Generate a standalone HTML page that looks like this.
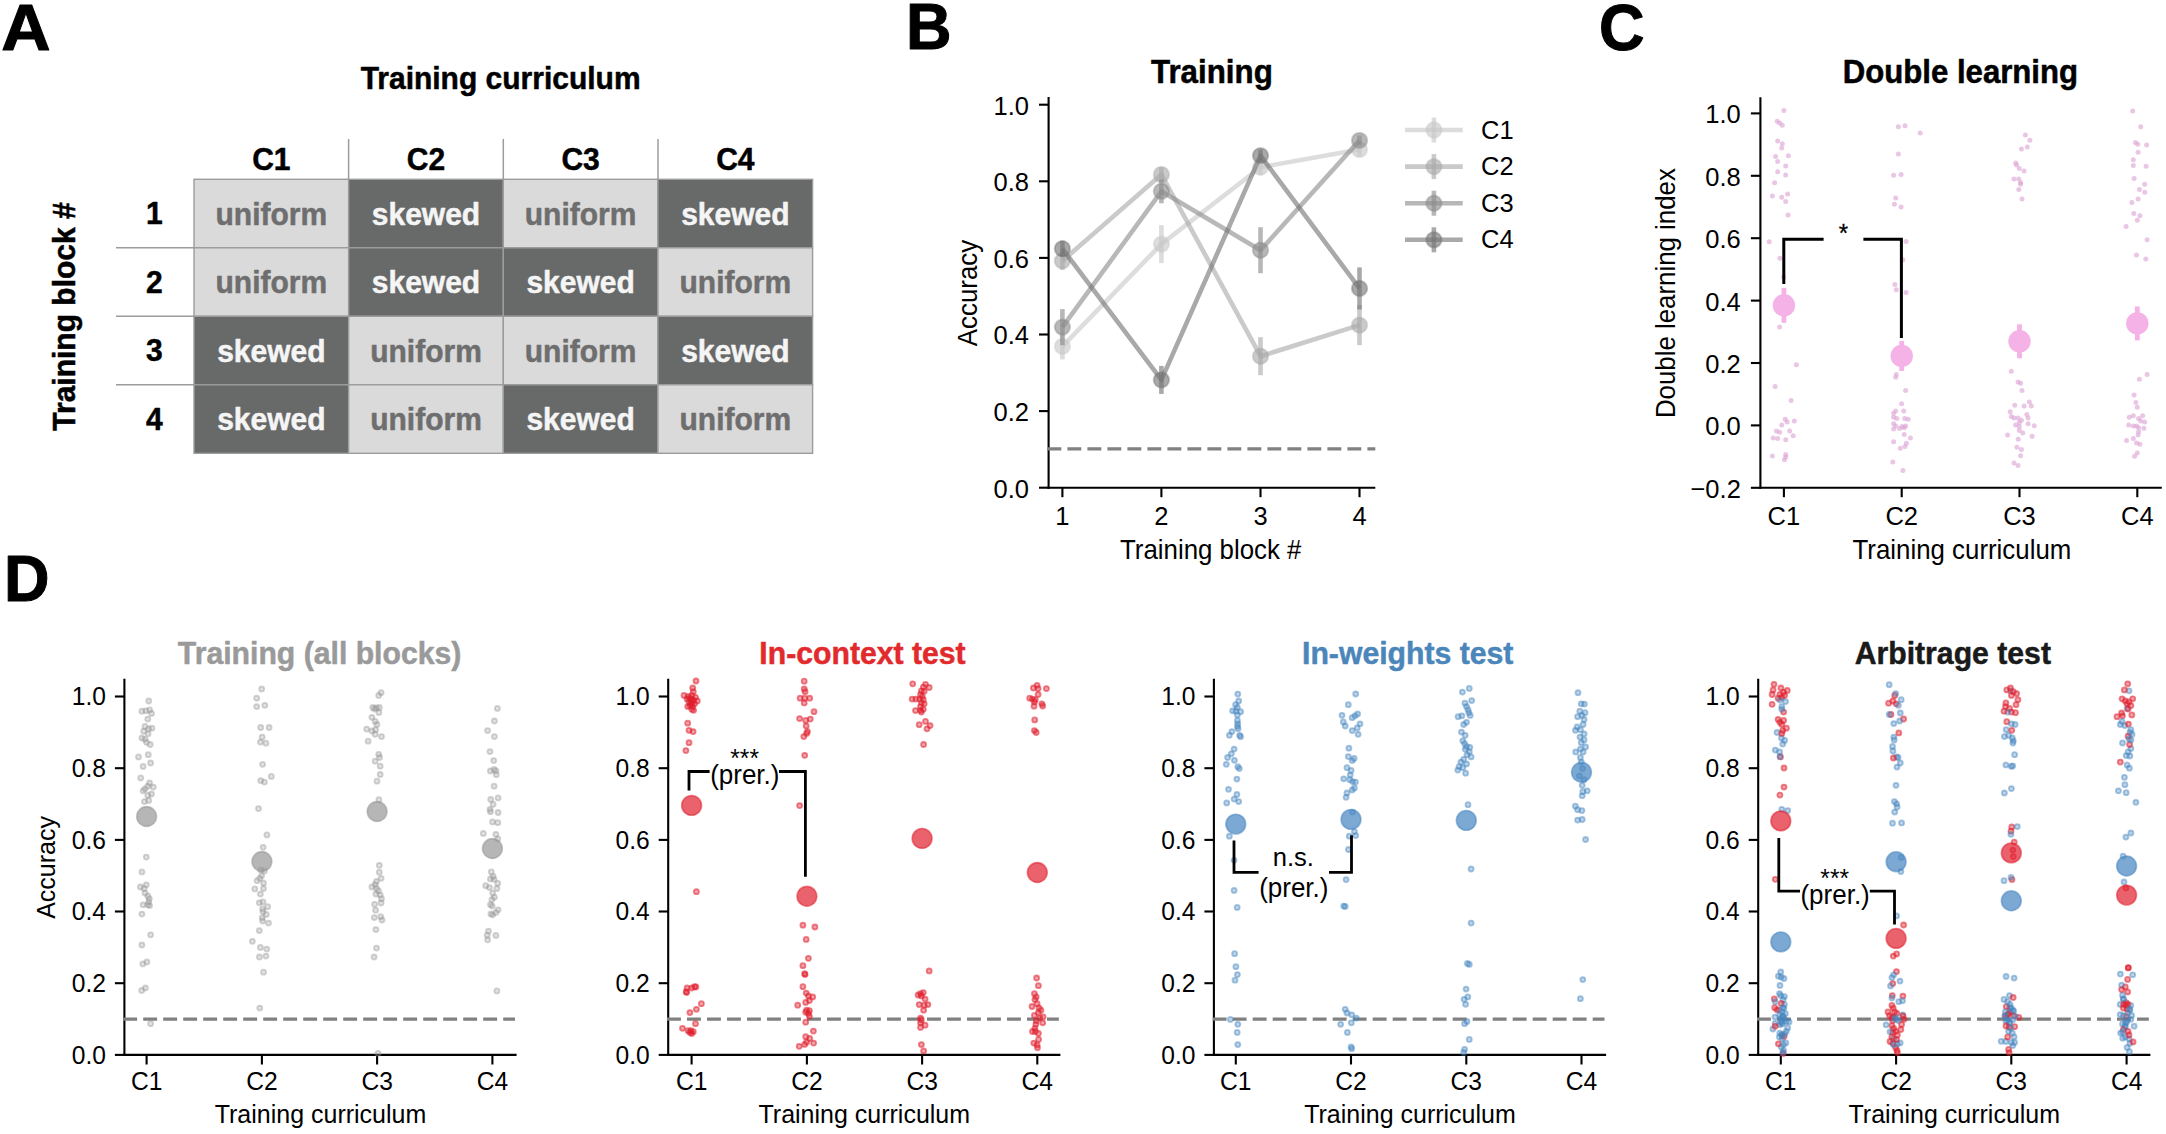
<!DOCTYPE html>
<html><head><meta charset="utf-8"><title>Figure</title>
<style>html,body{margin:0;padding:0;background:#fff;}body{width:2166px;height:1134px;}svg{display:block;font-family:'Liberation Sans', sans-serif;}.sg,.sr,.sb{stroke-width:1.8px}.sg{fill:#979797;stroke:#979797;fill-opacity:.28;stroke-opacity:.42}.sr{fill:#e01f2d;stroke:#e01f2d;fill-opacity:.4;stroke-opacity:.55}.sb{fill:#4585c0;stroke:#4585c0;fill-opacity:.35;stroke-opacity:.47}</style></head>
<body><svg width="2166" height="1134" viewBox="0 0 2166 1134">
<rect width="2166" height="1134" fill="#fff"/>
<text transform="translate(1.2 49.7) scale(1.085 1.04)" font-size="63" text-anchor="start" font-weight="bold" fill="#000" stroke="#000" stroke-width="1.01" stroke-linejoin="round">A</text>
<text transform="translate(906.0 49.4) scale(1 1.04)" font-size="63" text-anchor="start" font-weight="bold" fill="#000" stroke="#000" stroke-width="1.01" stroke-linejoin="round">B</text>
<text transform="translate(1599.0 49.5) scale(1 1.04)" font-size="63" text-anchor="start" font-weight="bold" fill="#000" stroke="#000" stroke-width="1.01" stroke-linejoin="round">C</text>
<text transform="translate(4.0 601.0) scale(1 1.04)" font-size="63" text-anchor="start" font-weight="bold" fill="#000" stroke="#000" stroke-width="1.01" stroke-linejoin="round">D</text>
<text transform="translate(500.6 88.9) scale(1 1.04)" font-size="30.0" text-anchor="middle" font-weight="bold" fill="#000" stroke="#000" stroke-width="0.48" stroke-linejoin="round">Training curriculum</text>
<rect x="194.00" y="179.30" width="154.65" height="68.50" fill="#dadada" stroke="#9c9c9c" stroke-width="1.4"/>
<rect x="348.65" y="179.30" width="154.65" height="68.50" fill="#686969" stroke="#9c9c9c" stroke-width="1.4"/>
<rect x="503.30" y="179.30" width="154.65" height="68.50" fill="#dadada" stroke="#9c9c9c" stroke-width="1.4"/>
<rect x="657.95" y="179.30" width="154.65" height="68.50" fill="#686969" stroke="#9c9c9c" stroke-width="1.4"/>
<rect x="194.00" y="247.80" width="154.65" height="68.50" fill="#dadada" stroke="#9c9c9c" stroke-width="1.4"/>
<rect x="348.65" y="247.80" width="154.65" height="68.50" fill="#686969" stroke="#9c9c9c" stroke-width="1.4"/>
<rect x="503.30" y="247.80" width="154.65" height="68.50" fill="#686969" stroke="#9c9c9c" stroke-width="1.4"/>
<rect x="657.95" y="247.80" width="154.65" height="68.50" fill="#dadada" stroke="#9c9c9c" stroke-width="1.4"/>
<rect x="194.00" y="316.30" width="154.65" height="68.50" fill="#686969" stroke="#9c9c9c" stroke-width="1.4"/>
<rect x="348.65" y="316.30" width="154.65" height="68.50" fill="#dadada" stroke="#9c9c9c" stroke-width="1.4"/>
<rect x="503.30" y="316.30" width="154.65" height="68.50" fill="#dadada" stroke="#9c9c9c" stroke-width="1.4"/>
<rect x="657.95" y="316.30" width="154.65" height="68.50" fill="#686969" stroke="#9c9c9c" stroke-width="1.4"/>
<rect x="194.00" y="384.80" width="154.65" height="68.50" fill="#686969" stroke="#9c9c9c" stroke-width="1.4"/>
<rect x="348.65" y="384.80" width="154.65" height="68.50" fill="#dadada" stroke="#9c9c9c" stroke-width="1.4"/>
<rect x="503.30" y="384.80" width="154.65" height="68.50" fill="#686969" stroke="#9c9c9c" stroke-width="1.4"/>
<rect x="657.95" y="384.80" width="154.65" height="68.50" fill="#dadada" stroke="#9c9c9c" stroke-width="1.4"/>
<text transform="translate(271.3 224.6) scale(1 1.04)" font-size="30.0" text-anchor="middle" font-weight="bold" fill="#6e6e6e" stroke="#6e6e6e" stroke-width="0.48" stroke-linejoin="round">uniform</text>
<text transform="translate(426.0 224.6) scale(1 1.04)" font-size="30.0" text-anchor="middle" font-weight="bold" fill="#f5f5f5" stroke="#f5f5f5" stroke-width="0.48" stroke-linejoin="round">skewed</text>
<text transform="translate(580.6 224.6) scale(1 1.04)" font-size="30.0" text-anchor="middle" font-weight="bold" fill="#6e6e6e" stroke="#6e6e6e" stroke-width="0.48" stroke-linejoin="round">uniform</text>
<text transform="translate(735.3 224.6) scale(1 1.04)" font-size="30.0" text-anchor="middle" font-weight="bold" fill="#f5f5f5" stroke="#f5f5f5" stroke-width="0.48" stroke-linejoin="round">skewed</text>
<text transform="translate(271.3 293.1) scale(1 1.04)" font-size="30.0" text-anchor="middle" font-weight="bold" fill="#6e6e6e" stroke="#6e6e6e" stroke-width="0.48" stroke-linejoin="round">uniform</text>
<text transform="translate(426.0 293.1) scale(1 1.04)" font-size="30.0" text-anchor="middle" font-weight="bold" fill="#f5f5f5" stroke="#f5f5f5" stroke-width="0.48" stroke-linejoin="round">skewed</text>
<text transform="translate(580.6 293.1) scale(1 1.04)" font-size="30.0" text-anchor="middle" font-weight="bold" fill="#f5f5f5" stroke="#f5f5f5" stroke-width="0.48" stroke-linejoin="round">skewed</text>
<text transform="translate(735.3 293.1) scale(1 1.04)" font-size="30.0" text-anchor="middle" font-weight="bold" fill="#6e6e6e" stroke="#6e6e6e" stroke-width="0.48" stroke-linejoin="round">uniform</text>
<text transform="translate(271.3 361.6) scale(1 1.04)" font-size="30.0" text-anchor="middle" font-weight="bold" fill="#f5f5f5" stroke="#f5f5f5" stroke-width="0.48" stroke-linejoin="round">skewed</text>
<text transform="translate(426.0 361.6) scale(1 1.04)" font-size="30.0" text-anchor="middle" font-weight="bold" fill="#6e6e6e" stroke="#6e6e6e" stroke-width="0.48" stroke-linejoin="round">uniform</text>
<text transform="translate(580.6 361.6) scale(1 1.04)" font-size="30.0" text-anchor="middle" font-weight="bold" fill="#6e6e6e" stroke="#6e6e6e" stroke-width="0.48" stroke-linejoin="round">uniform</text>
<text transform="translate(735.3 361.6) scale(1 1.04)" font-size="30.0" text-anchor="middle" font-weight="bold" fill="#f5f5f5" stroke="#f5f5f5" stroke-width="0.48" stroke-linejoin="round">skewed</text>
<text transform="translate(271.3 430.1) scale(1 1.04)" font-size="30.0" text-anchor="middle" font-weight="bold" fill="#f5f5f5" stroke="#f5f5f5" stroke-width="0.48" stroke-linejoin="round">skewed</text>
<text transform="translate(426.0 430.1) scale(1 1.04)" font-size="30.0" text-anchor="middle" font-weight="bold" fill="#6e6e6e" stroke="#6e6e6e" stroke-width="0.48" stroke-linejoin="round">uniform</text>
<text transform="translate(580.6 430.1) scale(1 1.04)" font-size="30.0" text-anchor="middle" font-weight="bold" fill="#f5f5f5" stroke="#f5f5f5" stroke-width="0.48" stroke-linejoin="round">skewed</text>
<text transform="translate(735.3 430.1) scale(1 1.04)" font-size="30.0" text-anchor="middle" font-weight="bold" fill="#6e6e6e" stroke="#6e6e6e" stroke-width="0.48" stroke-linejoin="round">uniform</text>
<text transform="translate(271.3 170.4) scale(1 1.04)" font-size="30.0" text-anchor="middle" font-weight="bold" fill="#000" stroke="#000" stroke-width="0.48" stroke-linejoin="round">C1</text>
<text transform="translate(426.0 170.4) scale(1 1.04)" font-size="30.0" text-anchor="middle" font-weight="bold" fill="#000" stroke="#000" stroke-width="0.48" stroke-linejoin="round">C2</text>
<line x1="348.6" y1="139.0" x2="348.6" y2="179.3" stroke="#9c9c9c" stroke-width="1.5"/>
<text transform="translate(580.6 170.4) scale(1 1.04)" font-size="30.0" text-anchor="middle" font-weight="bold" fill="#000" stroke="#000" stroke-width="0.48" stroke-linejoin="round">C3</text>
<line x1="503.3" y1="139.0" x2="503.3" y2="179.3" stroke="#9c9c9c" stroke-width="1.5"/>
<text transform="translate(735.3 170.4) scale(1 1.04)" font-size="30.0" text-anchor="middle" font-weight="bold" fill="#000" stroke="#000" stroke-width="0.48" stroke-linejoin="round">C4</text>
<line x1="658.0" y1="139.0" x2="658.0" y2="179.3" stroke="#9c9c9c" stroke-width="1.5"/>
<text transform="translate(154.4 224.1) scale(1 1.04)" font-size="30.0" text-anchor="middle" font-weight="bold" fill="#000" stroke="#000" stroke-width="0.48" stroke-linejoin="round">1</text>
<text transform="translate(154.4 292.6) scale(1 1.04)" font-size="30.0" text-anchor="middle" font-weight="bold" fill="#000" stroke="#000" stroke-width="0.48" stroke-linejoin="round">2</text>
<line x1="116.0" y1="247.8" x2="194.0" y2="247.8" stroke="#9c9c9c" stroke-width="1.5"/>
<text transform="translate(154.4 361.1) scale(1 1.04)" font-size="30.0" text-anchor="middle" font-weight="bold" fill="#000" stroke="#000" stroke-width="0.48" stroke-linejoin="round">3</text>
<line x1="116.0" y1="316.3" x2="194.0" y2="316.3" stroke="#9c9c9c" stroke-width="1.5"/>
<text transform="translate(154.4 429.6) scale(1 1.04)" font-size="30.0" text-anchor="middle" font-weight="bold" fill="#000" stroke="#000" stroke-width="0.48" stroke-linejoin="round">4</text>
<line x1="116.0" y1="384.8" x2="194.0" y2="384.8" stroke="#9c9c9c" stroke-width="1.5"/>
<text transform="translate(75.0 316.5) rotate(-90) scale(1 1.04)" font-size="30.0" text-anchor="middle" font-weight="bold" fill="#000" stroke="#000" stroke-width="0.48" stroke-linejoin="round">Training block #</text>
<line x1="1048.6" y1="97.0" x2="1048.6" y2="488.8" stroke="#000" stroke-width="2.1"/>
<line x1="1047.5" y1="487.7" x2="1375.3" y2="487.7" stroke="#000" stroke-width="2.1"/>
<line x1="1039.0" y1="487.7" x2="1048.6" y2="487.7" stroke="#000" stroke-width="2.1"/>
<text transform="translate(1029.0 497.6) scale(1 1.04)" font-size="25.5" text-anchor="end" font-weight="normal" fill="#000">0.0</text>
<line x1="1039.0" y1="411.1" x2="1048.6" y2="411.1" stroke="#000" stroke-width="2.1"/>
<text transform="translate(1029.0 421.0) scale(1 1.04)" font-size="25.5" text-anchor="end" font-weight="normal" fill="#000">0.2</text>
<line x1="1039.0" y1="334.5" x2="1048.6" y2="334.5" stroke="#000" stroke-width="2.1"/>
<text transform="translate(1029.0 344.4) scale(1 1.04)" font-size="25.5" text-anchor="end" font-weight="normal" fill="#000">0.4</text>
<line x1="1039.0" y1="257.9" x2="1048.6" y2="257.9" stroke="#000" stroke-width="2.1"/>
<text transform="translate(1029.0 267.8) scale(1 1.04)" font-size="25.5" text-anchor="end" font-weight="normal" fill="#000">0.6</text>
<line x1="1039.0" y1="181.3" x2="1048.6" y2="181.3" stroke="#000" stroke-width="2.1"/>
<text transform="translate(1029.0 191.2) scale(1 1.04)" font-size="25.5" text-anchor="end" font-weight="normal" fill="#000">0.8</text>
<line x1="1039.0" y1="104.7" x2="1048.6" y2="104.7" stroke="#000" stroke-width="2.1"/>
<text transform="translate(1029.0 114.6) scale(1 1.04)" font-size="25.5" text-anchor="end" font-weight="normal" fill="#000">1.0</text>
<line x1="1062.4" y1="487.7" x2="1062.4" y2="497.2" stroke="#000" stroke-width="2.1"/>
<text transform="translate(1062.4 524.6) scale(1 1.04)" font-size="25.5" text-anchor="middle" font-weight="normal" fill="#000">1</text>
<line x1="1161.4" y1="487.7" x2="1161.4" y2="497.2" stroke="#000" stroke-width="2.1"/>
<text transform="translate(1161.4 524.6) scale(1 1.04)" font-size="25.5" text-anchor="middle" font-weight="normal" fill="#000">2</text>
<line x1="1260.5" y1="487.7" x2="1260.5" y2="497.2" stroke="#000" stroke-width="2.1"/>
<text transform="translate(1260.5 524.6) scale(1 1.04)" font-size="25.5" text-anchor="middle" font-weight="normal" fill="#000">3</text>
<line x1="1359.5" y1="487.7" x2="1359.5" y2="497.2" stroke="#000" stroke-width="2.1"/>
<text transform="translate(1359.5 524.6) scale(1 1.04)" font-size="25.5" text-anchor="middle" font-weight="normal" fill="#000">4</text>
<text transform="translate(1211.9 82.5) scale(1 1.04)" font-size="31.3" text-anchor="middle" font-weight="bold" fill="#000" stroke="#000" stroke-width="0.50" stroke-linejoin="round">Training</text>
<text transform="translate(1210.7 559.0) scale(1 1.04)" font-size="25.85" text-anchor="middle" font-weight="normal" fill="#000">Training block #</text>
<text transform="translate(976.5 293.0) rotate(-90) scale(1 1.04)" font-size="25.85" text-anchor="middle" font-weight="normal" fill="#000">Accuracy</text>
<line x1="1047.4" y1="448.8" x2="1375.3" y2="448.8" stroke="#808080" stroke-width="3.3" stroke-dasharray="13.9 6.1"/>
<g opacity="0.62">
<polyline points="1062.4,346.4 1161.4,244.1 1260.5,167.2 1359.5,149.5" fill="none" stroke="#c8c8c8" stroke-width="4.6" stroke-linejoin="round"/>
</g>
<line x1="1062.4" y1="333.4" x2="1062.4" y2="359.4" stroke="#c8c8c8" stroke-width="4.6" opacity="0.62"/>
<line x1="1161.4" y1="225.1" x2="1161.4" y2="263.1" stroke="#c8c8c8" stroke-width="4.6" opacity="0.62"/>
<line x1="1260.5" y1="159.2" x2="1260.5" y2="175.2" stroke="#c8c8c8" stroke-width="4.6" opacity="0.62"/>
<line x1="1359.5" y1="142.5" x2="1359.5" y2="156.5" stroke="#c8c8c8" stroke-width="4.6" opacity="0.62"/>
<circle cx="1062.4" cy="346.4" r="7.7" fill="#c8c8c8" fill-opacity="0.62" stroke="#c8c8c8" stroke-opacity="0.4" stroke-width="2.0"/>
<circle cx="1161.4" cy="244.1" r="7.7" fill="#c8c8c8" fill-opacity="0.62" stroke="#c8c8c8" stroke-opacity="0.4" stroke-width="2.0"/>
<circle cx="1260.5" cy="167.2" r="7.7" fill="#c8c8c8" fill-opacity="0.62" stroke="#c8c8c8" stroke-opacity="0.4" stroke-width="2.0"/>
<circle cx="1359.5" cy="149.5" r="7.7" fill="#c8c8c8" fill-opacity="0.62" stroke="#c8c8c8" stroke-opacity="0.4" stroke-width="2.0"/>
<line x1="1405.0" y1="130.0" x2="1462.7" y2="130.0" stroke="#c8c8c8" stroke-width="4.6" opacity="0.62"/>
<line x1="1433.9" y1="117.5" x2="1433.9" y2="142.5" stroke="#c8c8c8" stroke-width="4.6" opacity="0.62"/>
<circle cx="1433.9" cy="130.0" r="7.7" fill="#c8c8c8" fill-opacity="0.62" stroke="#c8c8c8" stroke-opacity="0.4" stroke-width="2.0"/>
<text transform="translate(1481.0 138.6) scale(1 1.04)" font-size="25.5" text-anchor="start" font-weight="normal" fill="#000">C1</text>
<g opacity="0.62">
<polyline points="1062.4,260.9 1161.4,174.5 1260.5,356.2 1359.5,325.1" fill="none" stroke="#aaaaaa" stroke-width="4.6" stroke-linejoin="round"/>
</g>
<line x1="1062.4" y1="251.9" x2="1062.4" y2="269.9" stroke="#aaaaaa" stroke-width="4.6" opacity="0.62"/>
<line x1="1161.4" y1="167.5" x2="1161.4" y2="181.5" stroke="#aaaaaa" stroke-width="4.6" opacity="0.62"/>
<line x1="1260.5" y1="337.2" x2="1260.5" y2="375.2" stroke="#aaaaaa" stroke-width="4.6" opacity="0.62"/>
<line x1="1359.5" y1="305.1" x2="1359.5" y2="345.1" stroke="#aaaaaa" stroke-width="4.6" opacity="0.62"/>
<circle cx="1062.4" cy="260.9" r="7.7" fill="#aaaaaa" fill-opacity="0.62" stroke="#aaaaaa" stroke-opacity="0.4" stroke-width="2.0"/>
<circle cx="1161.4" cy="174.5" r="7.7" fill="#aaaaaa" fill-opacity="0.62" stroke="#aaaaaa" stroke-opacity="0.4" stroke-width="2.0"/>
<circle cx="1260.5" cy="356.2" r="7.7" fill="#aaaaaa" fill-opacity="0.62" stroke="#aaaaaa" stroke-opacity="0.4" stroke-width="2.0"/>
<circle cx="1359.5" cy="325.1" r="7.7" fill="#aaaaaa" fill-opacity="0.62" stroke="#aaaaaa" stroke-opacity="0.4" stroke-width="2.0"/>
<line x1="1405.0" y1="166.6" x2="1462.7" y2="166.6" stroke="#aaaaaa" stroke-width="4.6" opacity="0.62"/>
<line x1="1433.9" y1="154.1" x2="1433.9" y2="179.1" stroke="#aaaaaa" stroke-width="4.6" opacity="0.62"/>
<circle cx="1433.9" cy="166.6" r="7.7" fill="#aaaaaa" fill-opacity="0.62" stroke="#aaaaaa" stroke-opacity="0.4" stroke-width="2.0"/>
<text transform="translate(1481.0 175.2) scale(1 1.04)" font-size="25.5" text-anchor="start" font-weight="normal" fill="#000">C2</text>
<g opacity="0.62">
<polyline points="1062.4,327.1 1161.4,191.3 1260.5,250.2 1359.5,140.4" fill="none" stroke="#8c8c8c" stroke-width="4.6" stroke-linejoin="round"/>
</g>
<line x1="1062.4" y1="309.1" x2="1062.4" y2="345.1" stroke="#8c8c8c" stroke-width="4.6" opacity="0.62"/>
<line x1="1161.4" y1="179.3" x2="1161.4" y2="203.3" stroke="#8c8c8c" stroke-width="4.6" opacity="0.62"/>
<line x1="1260.5" y1="227.2" x2="1260.5" y2="273.2" stroke="#8c8c8c" stroke-width="4.6" opacity="0.62"/>
<line x1="1359.5" y1="135.4" x2="1359.5" y2="145.4" stroke="#8c8c8c" stroke-width="4.6" opacity="0.62"/>
<circle cx="1062.4" cy="327.1" r="7.7" fill="#8c8c8c" fill-opacity="0.62" stroke="#8c8c8c" stroke-opacity="0.4" stroke-width="2.0"/>
<circle cx="1161.4" cy="191.3" r="7.7" fill="#8c8c8c" fill-opacity="0.62" stroke="#8c8c8c" stroke-opacity="0.4" stroke-width="2.0"/>
<circle cx="1260.5" cy="250.2" r="7.7" fill="#8c8c8c" fill-opacity="0.62" stroke="#8c8c8c" stroke-opacity="0.4" stroke-width="2.0"/>
<circle cx="1359.5" cy="140.4" r="7.7" fill="#8c8c8c" fill-opacity="0.62" stroke="#8c8c8c" stroke-opacity="0.4" stroke-width="2.0"/>
<line x1="1405.0" y1="203.2" x2="1462.7" y2="203.2" stroke="#8c8c8c" stroke-width="4.6" opacity="0.62"/>
<line x1="1433.9" y1="190.7" x2="1433.9" y2="215.7" stroke="#8c8c8c" stroke-width="4.6" opacity="0.62"/>
<circle cx="1433.9" cy="203.2" r="7.7" fill="#8c8c8c" fill-opacity="0.62" stroke="#8c8c8c" stroke-opacity="0.4" stroke-width="2.0"/>
<text transform="translate(1481.0 211.8) scale(1 1.04)" font-size="25.5" text-anchor="start" font-weight="normal" fill="#000">C3</text>
<g opacity="0.62">
<polyline points="1062.4,248.7 1161.4,379.9 1260.5,155.6 1359.5,288.4" fill="none" stroke="#757575" stroke-width="4.6" stroke-linejoin="round"/>
</g>
<line x1="1062.4" y1="240.7" x2="1062.4" y2="256.7" stroke="#757575" stroke-width="4.6" opacity="0.62"/>
<line x1="1161.4" y1="365.9" x2="1161.4" y2="393.9" stroke="#757575" stroke-width="4.6" opacity="0.62"/>
<line x1="1260.5" y1="149.6" x2="1260.5" y2="161.6" stroke="#757575" stroke-width="4.6" opacity="0.62"/>
<line x1="1359.5" y1="267.4" x2="1359.5" y2="309.4" stroke="#757575" stroke-width="4.6" opacity="0.62"/>
<circle cx="1062.4" cy="248.7" r="7.7" fill="#757575" fill-opacity="0.62" stroke="#757575" stroke-opacity="0.4" stroke-width="2.0"/>
<circle cx="1161.4" cy="379.9" r="7.7" fill="#757575" fill-opacity="0.62" stroke="#757575" stroke-opacity="0.4" stroke-width="2.0"/>
<circle cx="1260.5" cy="155.6" r="7.7" fill="#757575" fill-opacity="0.62" stroke="#757575" stroke-opacity="0.4" stroke-width="2.0"/>
<circle cx="1359.5" cy="288.4" r="7.7" fill="#757575" fill-opacity="0.62" stroke="#757575" stroke-opacity="0.4" stroke-width="2.0"/>
<line x1="1405.0" y1="239.8" x2="1462.7" y2="239.8" stroke="#757575" stroke-width="4.6" opacity="0.62"/>
<line x1="1433.9" y1="227.3" x2="1433.9" y2="252.3" stroke="#757575" stroke-width="4.6" opacity="0.62"/>
<circle cx="1433.9" cy="239.8" r="7.7" fill="#757575" fill-opacity="0.62" stroke="#757575" stroke-opacity="0.4" stroke-width="2.0"/>
<text transform="translate(1481.0 248.4) scale(1 1.04)" font-size="25.5" text-anchor="start" font-weight="normal" fill="#000">C4</text>
<line x1="1760.4" y1="97.2" x2="1760.4" y2="488.8" stroke="#000" stroke-width="2.1"/>
<line x1="1759.4" y1="487.7" x2="2161.8" y2="487.7" stroke="#000" stroke-width="2.1"/>
<line x1="1750.9" y1="487.8" x2="1760.4" y2="487.8" stroke="#000" stroke-width="2.1"/>
<text transform="translate(1740.8 497.7) scale(1 1.04)" font-size="25.5" text-anchor="end" font-weight="normal" fill="#000">−0.2</text>
<line x1="1750.9" y1="425.4" x2="1760.4" y2="425.4" stroke="#000" stroke-width="2.1"/>
<text transform="translate(1740.8 435.3) scale(1 1.04)" font-size="25.5" text-anchor="end" font-weight="normal" fill="#000">0.0</text>
<line x1="1750.9" y1="363.0" x2="1760.4" y2="363.0" stroke="#000" stroke-width="2.1"/>
<text transform="translate(1740.8 372.9) scale(1 1.04)" font-size="25.5" text-anchor="end" font-weight="normal" fill="#000">0.2</text>
<line x1="1750.9" y1="300.6" x2="1760.4" y2="300.6" stroke="#000" stroke-width="2.1"/>
<text transform="translate(1740.8 310.5) scale(1 1.04)" font-size="25.5" text-anchor="end" font-weight="normal" fill="#000">0.4</text>
<line x1="1750.9" y1="238.2" x2="1760.4" y2="238.2" stroke="#000" stroke-width="2.1"/>
<text transform="translate(1740.8 248.1) scale(1 1.04)" font-size="25.5" text-anchor="end" font-weight="normal" fill="#000">0.6</text>
<line x1="1750.9" y1="175.8" x2="1760.4" y2="175.8" stroke="#000" stroke-width="2.1"/>
<text transform="translate(1740.8 185.7) scale(1 1.04)" font-size="25.5" text-anchor="end" font-weight="normal" fill="#000">0.8</text>
<line x1="1750.9" y1="113.4" x2="1760.4" y2="113.4" stroke="#000" stroke-width="2.1"/>
<text transform="translate(1740.8 123.3) scale(1 1.04)" font-size="25.5" text-anchor="end" font-weight="normal" fill="#000">1.0</text>
<line x1="1783.9" y1="487.7" x2="1783.9" y2="497.2" stroke="#000" stroke-width="2.1"/>
<text transform="translate(1783.9 524.6) scale(1 1.04)" font-size="25.5" text-anchor="middle" font-weight="normal" fill="#000">C1</text>
<line x1="1901.7" y1="487.7" x2="1901.7" y2="497.2" stroke="#000" stroke-width="2.1"/>
<text transform="translate(1901.7 524.6) scale(1 1.04)" font-size="25.5" text-anchor="middle" font-weight="normal" fill="#000">C2</text>
<line x1="2019.5" y1="487.7" x2="2019.5" y2="497.2" stroke="#000" stroke-width="2.1"/>
<text transform="translate(2019.5 524.6) scale(1 1.04)" font-size="25.5" text-anchor="middle" font-weight="normal" fill="#000">C3</text>
<line x1="2137.3" y1="487.7" x2="2137.3" y2="497.2" stroke="#000" stroke-width="2.1"/>
<text transform="translate(2137.3 524.6) scale(1 1.04)" font-size="25.5" text-anchor="middle" font-weight="normal" fill="#000">C4</text>
<text transform="translate(1960.4 82.7) scale(1 1.04)" font-size="31.15" text-anchor="middle" font-weight="bold" fill="#000" stroke="#000" stroke-width="0.50" stroke-linejoin="round">Double learning</text>
<text transform="translate(1961.9 559.0) scale(1 1.04)" font-size="25.85" text-anchor="middle" font-weight="normal" fill="#000">Training curriculum</text>
<text transform="translate(1674.5 293.1) rotate(-90) scale(1 1.04)" font-size="25.85" text-anchor="middle" font-weight="normal" fill="#000">Double learning index</text>
<g fill="#dca0d4" fill-opacity="0.6">
<circle cx="1783.9" cy="110.5" r="2.5"/>
<circle cx="1777.2" cy="121.2" r="2.5"/>
<circle cx="1779.6" cy="123.0" r="2.5"/>
<circle cx="1782.3" cy="125.2" r="2.5"/>
<circle cx="1777.7" cy="141.1" r="2.5"/>
<circle cx="1782.3" cy="143.8" r="2.5"/>
<circle cx="1781.7" cy="148.1" r="2.5"/>
<circle cx="1775.6" cy="156.6" r="2.5"/>
<circle cx="1788.4" cy="155.8" r="2.5"/>
<circle cx="1777.7" cy="161.4" r="2.5"/>
<circle cx="1785.7" cy="165.9" r="2.5"/>
<circle cx="1777.7" cy="171.8" r="2.5"/>
<circle cx="1785.7" cy="175.0" r="2.5"/>
<circle cx="1774.6" cy="182.7" r="2.5"/>
<circle cx="1787.6" cy="193.9" r="2.5"/>
<circle cx="1772.4" cy="196.0" r="2.5"/>
<circle cx="1781.7" cy="197.3" r="2.5"/>
<circle cx="1785.7" cy="201.6" r="2.5"/>
<circle cx="1788.1" cy="214.9" r="2.5"/>
<circle cx="1769.2" cy="241.8" r="2.5"/>
<circle cx="1779.9" cy="258.3" r="2.5"/>
<circle cx="1783.6" cy="277.0" r="2.5"/>
<circle cx="1898.4" cy="126.8" r="2.5"/>
<circle cx="1905.0" cy="125.7" r="2.5"/>
<circle cx="1920.2" cy="132.9" r="2.5"/>
<circle cx="1898.4" cy="153.9" r="2.5"/>
<circle cx="1893.6" cy="175.2" r="2.5"/>
<circle cx="1901.1" cy="174.4" r="2.5"/>
<circle cx="1895.7" cy="197.9" r="2.5"/>
<circle cx="1894.4" cy="204.3" r="2.5"/>
<circle cx="1901.1" cy="206.9" r="2.5"/>
<circle cx="1906.1" cy="241.5" r="2.5"/>
<circle cx="1902.9" cy="259.7" r="2.5"/>
<circle cx="1894.9" cy="284.4" r="2.5"/>
<circle cx="1896.3" cy="289.7" r="2.5"/>
<circle cx="1906.1" cy="292.4" r="2.5"/>
<circle cx="2025.4" cy="135.0" r="2.5"/>
<circle cx="2029.9" cy="140.3" r="2.5"/>
<circle cx="2027.3" cy="147.0" r="2.5"/>
<circle cx="2021.4" cy="149.1" r="2.5"/>
<circle cx="2015.6" cy="163.0" r="2.5"/>
<circle cx="2016.6" cy="165.1" r="2.5"/>
<circle cx="2019.3" cy="168.6" r="2.5"/>
<circle cx="2024.1" cy="171.0" r="2.5"/>
<circle cx="2014.0" cy="179.0" r="2.5"/>
<circle cx="2018.8" cy="179.0" r="2.5"/>
<circle cx="2020.6" cy="182.4" r="2.5"/>
<circle cx="2020.6" cy="184.3" r="2.5"/>
<circle cx="2018.8" cy="189.6" r="2.5"/>
<circle cx="2022.0" cy="198.9" r="2.5"/>
<circle cx="2132.7" cy="111.1" r="2.5"/>
<circle cx="2140.7" cy="126.8" r="2.5"/>
<circle cx="2135.4" cy="142.5" r="2.5"/>
<circle cx="2137.8" cy="144.3" r="2.5"/>
<circle cx="2146.6" cy="145.1" r="2.5"/>
<circle cx="2138.1" cy="152.3" r="2.5"/>
<circle cx="2133.3" cy="159.8" r="2.5"/>
<circle cx="2133.3" cy="165.6" r="2.5"/>
<circle cx="2146.1" cy="166.2" r="2.5"/>
<circle cx="2134.1" cy="178.4" r="2.5"/>
<circle cx="2144.7" cy="184.3" r="2.5"/>
<circle cx="2139.4" cy="189.6" r="2.5"/>
<circle cx="2144.7" cy="192.3" r="2.5"/>
<circle cx="2138.1" cy="198.9" r="2.5"/>
<circle cx="2131.9" cy="202.4" r="2.5"/>
<circle cx="2133.8" cy="213.6" r="2.5"/>
<circle cx="2139.9" cy="215.7" r="2.5"/>
<circle cx="2137.3" cy="220.2" r="2.5"/>
<circle cx="2126.1" cy="226.4" r="2.5"/>
<circle cx="2147.1" cy="239.7" r="2.5"/>
<circle cx="2136.5" cy="255.1" r="2.5"/>
<circle cx="2145.8" cy="259.1" r="2.5"/>
<circle cx="1779.6" cy="327.1" r="2.5"/>
<circle cx="1796.4" cy="364.7" r="2.5"/>
<circle cx="1775.1" cy="386.5" r="2.5"/>
<circle cx="1791.1" cy="400.6" r="2.5"/>
<circle cx="1785.2" cy="419.3" r="2.5"/>
<circle cx="1787.1" cy="421.9" r="2.5"/>
<circle cx="1794.3" cy="421.1" r="2.5"/>
<circle cx="1781.7" cy="425.1" r="2.5"/>
<circle cx="1776.4" cy="431.0" r="2.5"/>
<circle cx="1789.7" cy="431.0" r="2.5"/>
<circle cx="1779.6" cy="432.3" r="2.5"/>
<circle cx="1793.2" cy="435.8" r="2.5"/>
<circle cx="1773.2" cy="437.9" r="2.5"/>
<circle cx="1777.7" cy="438.5" r="2.5"/>
<circle cx="1785.7" cy="439.8" r="2.5"/>
<circle cx="1785.7" cy="454.4" r="2.5"/>
<circle cx="1772.4" cy="456.0" r="2.5"/>
<circle cx="1785.7" cy="457.1" r="2.5"/>
<circle cx="1784.4" cy="459.8" r="2.5"/>
<circle cx="1896.3" cy="374.5" r="2.5"/>
<circle cx="1895.7" cy="377.2" r="2.5"/>
<circle cx="1905.6" cy="390.5" r="2.5"/>
<circle cx="1901.6" cy="403.8" r="2.5"/>
<circle cx="1895.7" cy="411.0" r="2.5"/>
<circle cx="1903.7" cy="411.0" r="2.5"/>
<circle cx="1893.6" cy="413.2" r="2.5"/>
<circle cx="1893.6" cy="417.2" r="2.5"/>
<circle cx="1896.8" cy="418.5" r="2.5"/>
<circle cx="1904.8" cy="418.5" r="2.5"/>
<circle cx="1908.2" cy="419.3" r="2.5"/>
<circle cx="1893.6" cy="423.8" r="2.5"/>
<circle cx="1895.7" cy="425.9" r="2.5"/>
<circle cx="1902.1" cy="426.5" r="2.5"/>
<circle cx="1905.6" cy="425.9" r="2.5"/>
<circle cx="1893.6" cy="429.1" r="2.5"/>
<circle cx="1899.5" cy="428.6" r="2.5"/>
<circle cx="1904.2" cy="427.8" r="2.5"/>
<circle cx="1904.2" cy="434.5" r="2.5"/>
<circle cx="1910.4" cy="437.9" r="2.5"/>
<circle cx="1893.6" cy="441.7" r="2.5"/>
<circle cx="1906.4" cy="443.2" r="2.5"/>
<circle cx="1905.0" cy="446.4" r="2.5"/>
<circle cx="1900.3" cy="448.3" r="2.5"/>
<circle cx="1892.8" cy="461.9" r="2.5"/>
<circle cx="1902.9" cy="470.4" r="2.5"/>
<circle cx="2011.3" cy="371.3" r="2.5"/>
<circle cx="2018.0" cy="382.0" r="2.5"/>
<circle cx="2020.6" cy="383.3" r="2.5"/>
<circle cx="2022.0" cy="390.5" r="2.5"/>
<circle cx="2029.4" cy="402.0" r="2.5"/>
<circle cx="2014.8" cy="405.2" r="2.5"/>
<circle cx="2024.1" cy="406.0" r="2.5"/>
<circle cx="2031.3" cy="406.0" r="2.5"/>
<circle cx="2010.2" cy="411.8" r="2.5"/>
<circle cx="2026.8" cy="414.5" r="2.5"/>
<circle cx="2011.3" cy="416.6" r="2.5"/>
<circle cx="2014.0" cy="417.9" r="2.5"/>
<circle cx="2018.0" cy="417.9" r="2.5"/>
<circle cx="2028.1" cy="417.9" r="2.5"/>
<circle cx="2021.4" cy="420.3" r="2.5"/>
<circle cx="2019.3" cy="422.5" r="2.5"/>
<circle cx="2028.1" cy="423.8" r="2.5"/>
<circle cx="2015.6" cy="425.1" r="2.5"/>
<circle cx="2019.3" cy="426.5" r="2.5"/>
<circle cx="2034.2" cy="425.7" r="2.5"/>
<circle cx="2019.3" cy="430.5" r="2.5"/>
<circle cx="2022.8" cy="433.1" r="2.5"/>
<circle cx="2007.6" cy="435.0" r="2.5"/>
<circle cx="2032.1" cy="436.3" r="2.5"/>
<circle cx="2018.2" cy="439.3" r="2.5"/>
<circle cx="2016.9" cy="447.2" r="2.5"/>
<circle cx="2021.4" cy="449.6" r="2.5"/>
<circle cx="2020.6" cy="455.8" r="2.5"/>
<circle cx="2014.0" cy="463.0" r="2.5"/>
<circle cx="2018.0" cy="465.6" r="2.5"/>
<circle cx="2147.1" cy="374.5" r="2.5"/>
<circle cx="2139.4" cy="379.3" r="2.5"/>
<circle cx="2134.1" cy="395.0" r="2.5"/>
<circle cx="2135.9" cy="402.5" r="2.5"/>
<circle cx="2137.3" cy="407.3" r="2.5"/>
<circle cx="2133.3" cy="415.8" r="2.5"/>
<circle cx="2129.3" cy="417.2" r="2.5"/>
<circle cx="2142.6" cy="415.8" r="2.5"/>
<circle cx="2138.6" cy="418.5" r="2.5"/>
<circle cx="2140.7" cy="421.1" r="2.5"/>
<circle cx="2144.7" cy="421.9" r="2.5"/>
<circle cx="2128.7" cy="425.1" r="2.5"/>
<circle cx="2133.3" cy="425.9" r="2.5"/>
<circle cx="2136.5" cy="425.9" r="2.5"/>
<circle cx="2138.6" cy="427.8" r="2.5"/>
<circle cx="2143.9" cy="428.3" r="2.5"/>
<circle cx="2138.6" cy="431.8" r="2.5"/>
<circle cx="2138.1" cy="435.0" r="2.5"/>
<circle cx="2126.6" cy="440.6" r="2.5"/>
<circle cx="2133.3" cy="438.5" r="2.5"/>
<circle cx="2136.5" cy="443.0" r="2.5"/>
<circle cx="2139.9" cy="444.3" r="2.5"/>
<circle cx="2137.3" cy="453.1" r="2.5"/>
<circle cx="2134.6" cy="456.3" r="2.5"/>
</g>
<polyline points="1783.8,284.0 1783.8,239.3 1823.6,239.3" fill="none" stroke="#000" stroke-width="3.0"/>
<polyline points="1863.4,239.3 1901.4,239.3 1901.4,338.0" fill="none" stroke="#000" stroke-width="3.0"/>
<text transform="translate(1843.5 242.2) scale(1 1.04)" font-size="24.0" text-anchor="middle" font-weight="normal" fill="#000" stroke="#000" stroke-width="0.3">*</text>
<line x1="1783.9" y1="287.8" x2="1783.9" y2="322.8" stroke="#f4b2e7" stroke-width="4.8"/>
<circle cx="1783.9" cy="305.3" r="11.2" fill="#f4b2e7" stroke="none" stroke-width="0" opacity="1"/>
<line x1="1901.7" y1="340.9" x2="1901.7" y2="370.9" stroke="#f4b2e7" stroke-width="4.8"/>
<circle cx="1901.7" cy="355.9" r="11.2" fill="#f4b2e7" stroke="none" stroke-width="0" opacity="1"/>
<line x1="2019.5" y1="324.3" x2="2019.5" y2="358.3" stroke="#f4b2e7" stroke-width="4.8"/>
<circle cx="2019.5" cy="341.3" r="11.2" fill="#f4b2e7" stroke="none" stroke-width="0" opacity="1"/>
<line x1="2137.3" y1="306.4" x2="2137.3" y2="340.4" stroke="#f4b2e7" stroke-width="4.8"/>
<circle cx="2137.3" cy="323.4" r="11.2" fill="#f4b2e7" stroke="none" stroke-width="0" opacity="1"/>
<line x1="124.4" y1="678.7" x2="124.4" y2="1056.0" stroke="#000" stroke-width="2.1"/>
<line x1="123.4" y1="1054.9" x2="516.6" y2="1054.9" stroke="#000" stroke-width="2.1"/>
<line x1="114.9" y1="1054.9" x2="124.4" y2="1054.9" stroke="#000" stroke-width="2.1"/>
<text transform="translate(106.0 1063.8) scale(1 1.04)" font-size="24.6" text-anchor="end" font-weight="normal" fill="#000">0.0</text>
<line x1="114.9" y1="983.2" x2="124.4" y2="983.2" stroke="#000" stroke-width="2.1"/>
<text transform="translate(106.0 992.1) scale(1 1.04)" font-size="24.6" text-anchor="end" font-weight="normal" fill="#000">0.2</text>
<line x1="114.9" y1="911.5" x2="124.4" y2="911.5" stroke="#000" stroke-width="2.1"/>
<text transform="translate(106.0 920.4) scale(1 1.04)" font-size="24.6" text-anchor="end" font-weight="normal" fill="#000">0.4</text>
<line x1="114.9" y1="839.9" x2="124.4" y2="839.9" stroke="#000" stroke-width="2.1"/>
<text transform="translate(106.0 848.8) scale(1 1.04)" font-size="24.6" text-anchor="end" font-weight="normal" fill="#000">0.6</text>
<line x1="114.9" y1="768.2" x2="124.4" y2="768.2" stroke="#000" stroke-width="2.1"/>
<text transform="translate(106.0 777.1) scale(1 1.04)" font-size="24.6" text-anchor="end" font-weight="normal" fill="#000">0.8</text>
<line x1="114.9" y1="696.5" x2="124.4" y2="696.5" stroke="#000" stroke-width="2.1"/>
<text transform="translate(106.0 705.4) scale(1 1.04)" font-size="24.6" text-anchor="end" font-weight="normal" fill="#000">1.0</text>
<line x1="146.6" y1="1054.9" x2="146.6" y2="1064.5" stroke="#000" stroke-width="2.1"/>
<text transform="translate(146.6 1090.1) scale(1 1.04)" font-size="24.6" text-anchor="middle" font-weight="normal" fill="#000">C1</text>
<line x1="261.9" y1="1054.9" x2="261.9" y2="1064.5" stroke="#000" stroke-width="2.1"/>
<text transform="translate(261.9 1090.1) scale(1 1.04)" font-size="24.6" text-anchor="middle" font-weight="normal" fill="#000">C2</text>
<line x1="377.1" y1="1054.9" x2="377.1" y2="1064.5" stroke="#000" stroke-width="2.1"/>
<text transform="translate(377.1 1090.1) scale(1 1.04)" font-size="24.6" text-anchor="middle" font-weight="normal" fill="#000">C3</text>
<line x1="492.4" y1="1054.9" x2="492.4" y2="1064.5" stroke="#000" stroke-width="2.1"/>
<text transform="translate(492.4 1090.1) scale(1 1.04)" font-size="24.6" text-anchor="middle" font-weight="normal" fill="#000">C4</text>
<text transform="translate(319.6 663.8) scale(1 1.04)" font-size="30.2" text-anchor="middle" font-weight="bold" fill="#9a9a9a" stroke="#9a9a9a" stroke-width="0.48" stroke-linejoin="round">Training (all blocks)</text>
<text transform="translate(320.5 1123.2) scale(1 1.04)" font-size="25.0" text-anchor="middle" font-weight="normal" fill="#000">Training curriculum</text>
<text transform="translate(55.2 867.4) rotate(-90) scale(1 1.04)" font-size="25.0" text-anchor="middle" font-weight="normal" fill="#000">Accuracy</text>
<line x1="123.2" y1="1019.2" x2="515.0" y2="1019.2" stroke="#808080" stroke-width="3.3" stroke-dasharray="13.9 6.1"/>
<line x1="668.2" y1="678.7" x2="668.2" y2="1056.0" stroke="#000" stroke-width="2.1"/>
<line x1="667.2" y1="1054.9" x2="1060.4" y2="1054.9" stroke="#000" stroke-width="2.1"/>
<line x1="658.7" y1="1054.9" x2="668.2" y2="1054.9" stroke="#000" stroke-width="2.1"/>
<text transform="translate(649.8 1063.8) scale(1 1.04)" font-size="24.6" text-anchor="end" font-weight="normal" fill="#000">0.0</text>
<line x1="658.7" y1="983.2" x2="668.2" y2="983.2" stroke="#000" stroke-width="2.1"/>
<text transform="translate(649.8 992.1) scale(1 1.04)" font-size="24.6" text-anchor="end" font-weight="normal" fill="#000">0.2</text>
<line x1="658.7" y1="911.5" x2="668.2" y2="911.5" stroke="#000" stroke-width="2.1"/>
<text transform="translate(649.8 920.4) scale(1 1.04)" font-size="24.6" text-anchor="end" font-weight="normal" fill="#000">0.4</text>
<line x1="658.7" y1="839.9" x2="668.2" y2="839.9" stroke="#000" stroke-width="2.1"/>
<text transform="translate(649.8 848.8) scale(1 1.04)" font-size="24.6" text-anchor="end" font-weight="normal" fill="#000">0.6</text>
<line x1="658.7" y1="768.2" x2="668.2" y2="768.2" stroke="#000" stroke-width="2.1"/>
<text transform="translate(649.8 777.1) scale(1 1.04)" font-size="24.6" text-anchor="end" font-weight="normal" fill="#000">0.8</text>
<line x1="658.7" y1="696.5" x2="668.2" y2="696.5" stroke="#000" stroke-width="2.1"/>
<text transform="translate(649.8 705.4) scale(1 1.04)" font-size="24.6" text-anchor="end" font-weight="normal" fill="#000">1.0</text>
<line x1="691.6" y1="1054.9" x2="691.6" y2="1064.5" stroke="#000" stroke-width="2.1"/>
<text transform="translate(691.6 1090.1) scale(1 1.04)" font-size="24.6" text-anchor="middle" font-weight="normal" fill="#000">C1</text>
<line x1="806.9" y1="1054.9" x2="806.9" y2="1064.5" stroke="#000" stroke-width="2.1"/>
<text transform="translate(806.9 1090.1) scale(1 1.04)" font-size="24.6" text-anchor="middle" font-weight="normal" fill="#000">C2</text>
<line x1="922.1" y1="1054.9" x2="922.1" y2="1064.5" stroke="#000" stroke-width="2.1"/>
<text transform="translate(922.1 1090.1) scale(1 1.04)" font-size="24.6" text-anchor="middle" font-weight="normal" fill="#000">C3</text>
<line x1="1037.3" y1="1054.9" x2="1037.3" y2="1064.5" stroke="#000" stroke-width="2.1"/>
<text transform="translate(1037.3 1090.1) scale(1 1.04)" font-size="24.6" text-anchor="middle" font-weight="normal" fill="#000">C4</text>
<text transform="translate(862.5 663.8) scale(1 1.04)" font-size="30.2" text-anchor="middle" font-weight="bold" fill="#e22a2c" stroke="#e22a2c" stroke-width="0.48" stroke-linejoin="round">In-context test</text>
<text transform="translate(864.3 1123.2) scale(1 1.04)" font-size="25.0" text-anchor="middle" font-weight="normal" fill="#000">Training curriculum</text>
<line x1="667.0" y1="1019.2" x2="1058.8" y2="1019.2" stroke="#808080" stroke-width="3.3" stroke-dasharray="13.9 6.1"/>
<line x1="1213.9" y1="678.7" x2="1213.9" y2="1056.0" stroke="#000" stroke-width="2.1"/>
<line x1="1212.9" y1="1054.9" x2="1606.1" y2="1054.9" stroke="#000" stroke-width="2.1"/>
<line x1="1204.4" y1="1054.9" x2="1213.9" y2="1054.9" stroke="#000" stroke-width="2.1"/>
<text transform="translate(1195.5 1063.8) scale(1 1.04)" font-size="24.6" text-anchor="end" font-weight="normal" fill="#000">0.0</text>
<line x1="1204.4" y1="983.2" x2="1213.9" y2="983.2" stroke="#000" stroke-width="2.1"/>
<text transform="translate(1195.5 992.1) scale(1 1.04)" font-size="24.6" text-anchor="end" font-weight="normal" fill="#000">0.2</text>
<line x1="1204.4" y1="911.5" x2="1213.9" y2="911.5" stroke="#000" stroke-width="2.1"/>
<text transform="translate(1195.5 920.4) scale(1 1.04)" font-size="24.6" text-anchor="end" font-weight="normal" fill="#000">0.4</text>
<line x1="1204.4" y1="839.9" x2="1213.9" y2="839.9" stroke="#000" stroke-width="2.1"/>
<text transform="translate(1195.5 848.8) scale(1 1.04)" font-size="24.6" text-anchor="end" font-weight="normal" fill="#000">0.6</text>
<line x1="1204.4" y1="768.2" x2="1213.9" y2="768.2" stroke="#000" stroke-width="2.1"/>
<text transform="translate(1195.5 777.1) scale(1 1.04)" font-size="24.6" text-anchor="end" font-weight="normal" fill="#000">0.8</text>
<line x1="1204.4" y1="696.5" x2="1213.9" y2="696.5" stroke="#000" stroke-width="2.1"/>
<text transform="translate(1195.5 705.4) scale(1 1.04)" font-size="24.6" text-anchor="end" font-weight="normal" fill="#000">1.0</text>
<line x1="1235.8" y1="1054.9" x2="1235.8" y2="1064.5" stroke="#000" stroke-width="2.1"/>
<text transform="translate(1235.8 1090.1) scale(1 1.04)" font-size="24.6" text-anchor="middle" font-weight="normal" fill="#000">C1</text>
<line x1="1351.0" y1="1054.9" x2="1351.0" y2="1064.5" stroke="#000" stroke-width="2.1"/>
<text transform="translate(1351.0 1090.1) scale(1 1.04)" font-size="24.6" text-anchor="middle" font-weight="normal" fill="#000">C2</text>
<line x1="1466.3" y1="1054.9" x2="1466.3" y2="1064.5" stroke="#000" stroke-width="2.1"/>
<text transform="translate(1466.3 1090.1) scale(1 1.04)" font-size="24.6" text-anchor="middle" font-weight="normal" fill="#000">C3</text>
<line x1="1581.5" y1="1054.9" x2="1581.5" y2="1064.5" stroke="#000" stroke-width="2.1"/>
<text transform="translate(1581.5 1090.1) scale(1 1.04)" font-size="24.6" text-anchor="middle" font-weight="normal" fill="#000">C4</text>
<text transform="translate(1407.7 663.8) scale(1 1.04)" font-size="30.2" text-anchor="middle" font-weight="bold" fill="#4b86bb" stroke="#4b86bb" stroke-width="0.48" stroke-linejoin="round">In-weights test</text>
<text transform="translate(1410.0 1123.2) scale(1 1.04)" font-size="25.0" text-anchor="middle" font-weight="normal" fill="#000">Training curriculum</text>
<line x1="1212.7" y1="1019.2" x2="1604.5" y2="1019.2" stroke="#808080" stroke-width="3.3" stroke-dasharray="13.9 6.1"/>
<line x1="1758.2" y1="678.7" x2="1758.2" y2="1056.0" stroke="#000" stroke-width="2.1"/>
<line x1="1757.2" y1="1054.9" x2="2150.4" y2="1054.9" stroke="#000" stroke-width="2.1"/>
<line x1="1748.7" y1="1054.9" x2="1758.2" y2="1054.9" stroke="#000" stroke-width="2.1"/>
<text transform="translate(1739.8 1063.8) scale(1 1.04)" font-size="24.6" text-anchor="end" font-weight="normal" fill="#000">0.0</text>
<line x1="1748.7" y1="983.2" x2="1758.2" y2="983.2" stroke="#000" stroke-width="2.1"/>
<text transform="translate(1739.8 992.1) scale(1 1.04)" font-size="24.6" text-anchor="end" font-weight="normal" fill="#000">0.2</text>
<line x1="1748.7" y1="911.5" x2="1758.2" y2="911.5" stroke="#000" stroke-width="2.1"/>
<text transform="translate(1739.8 920.4) scale(1 1.04)" font-size="24.6" text-anchor="end" font-weight="normal" fill="#000">0.4</text>
<line x1="1748.7" y1="839.9" x2="1758.2" y2="839.9" stroke="#000" stroke-width="2.1"/>
<text transform="translate(1739.8 848.8) scale(1 1.04)" font-size="24.6" text-anchor="end" font-weight="normal" fill="#000">0.6</text>
<line x1="1748.7" y1="768.2" x2="1758.2" y2="768.2" stroke="#000" stroke-width="2.1"/>
<text transform="translate(1739.8 777.1) scale(1 1.04)" font-size="24.6" text-anchor="end" font-weight="normal" fill="#000">0.8</text>
<line x1="1748.7" y1="696.5" x2="1758.2" y2="696.5" stroke="#000" stroke-width="2.1"/>
<text transform="translate(1739.8 705.4) scale(1 1.04)" font-size="24.6" text-anchor="end" font-weight="normal" fill="#000">1.0</text>
<line x1="1780.8" y1="1054.9" x2="1780.8" y2="1064.5" stroke="#000" stroke-width="2.1"/>
<text transform="translate(1780.8 1090.1) scale(1 1.04)" font-size="24.6" text-anchor="middle" font-weight="normal" fill="#000">C1</text>
<line x1="1896.1" y1="1054.9" x2="1896.1" y2="1064.5" stroke="#000" stroke-width="2.1"/>
<text transform="translate(1896.1 1090.1) scale(1 1.04)" font-size="24.6" text-anchor="middle" font-weight="normal" fill="#000">C2</text>
<line x1="2011.3" y1="1054.9" x2="2011.3" y2="1064.5" stroke="#000" stroke-width="2.1"/>
<text transform="translate(2011.3 1090.1) scale(1 1.04)" font-size="24.6" text-anchor="middle" font-weight="normal" fill="#000">C3</text>
<line x1="2126.6" y1="1054.9" x2="2126.6" y2="1064.5" stroke="#000" stroke-width="2.1"/>
<text transform="translate(2126.6 1090.1) scale(1 1.04)" font-size="24.6" text-anchor="middle" font-weight="normal" fill="#000">C4</text>
<text transform="translate(1952.8 663.8) scale(1 1.04)" font-size="30.2" text-anchor="middle" font-weight="bold" fill="#1a1a1a" stroke="#1a1a1a" stroke-width="0.48" stroke-linejoin="round">Arbitrage test</text>
<text transform="translate(1954.3 1123.2) scale(1 1.04)" font-size="25.0" text-anchor="middle" font-weight="normal" fill="#000">Training curriculum</text>
<line x1="1757.0" y1="1019.2" x2="2148.8" y2="1019.2" stroke="#808080" stroke-width="3.3" stroke-dasharray="13.9 6.1"/>
<g class="sg">
<circle cx="148.7" cy="701.0" r="2.5"/>
<circle cx="141.9" cy="711.2" r="2.5"/>
<circle cx="145.9" cy="710.8" r="2.5"/>
<circle cx="149.6" cy="709.9" r="2.5"/>
<circle cx="151.5" cy="713.4" r="2.5"/>
<circle cx="147.8" cy="719.1" r="2.5"/>
<circle cx="145.0" cy="726.4" r="2.5"/>
<circle cx="148.7" cy="728.8" r="2.5"/>
<circle cx="151.9" cy="728.2" r="2.5"/>
<circle cx="143.7" cy="731.2" r="2.5"/>
<circle cx="148.1" cy="733.8" r="2.5"/>
<circle cx="141.9" cy="738.0" r="2.5"/>
<circle cx="145.0" cy="739.3" r="2.5"/>
<circle cx="146.5" cy="742.3" r="2.5"/>
<circle cx="150.2" cy="744.5" r="2.5"/>
<circle cx="148.3" cy="754.7" r="2.5"/>
<circle cx="138.5" cy="756.9" r="2.5"/>
<circle cx="150.6" cy="763.0" r="2.5"/>
<circle cx="143.1" cy="766.4" r="2.5"/>
<circle cx="140.7" cy="777.9" r="2.5"/>
<circle cx="149.6" cy="783.0" r="2.5"/>
<circle cx="147.8" cy="786.2" r="2.5"/>
<circle cx="153.3" cy="787.1" r="2.5"/>
<circle cx="145.0" cy="789.0" r="2.5"/>
<circle cx="143.1" cy="790.8" r="2.5"/>
<circle cx="151.5" cy="794.0" r="2.5"/>
<circle cx="147.8" cy="795.4" r="2.5"/>
<circle cx="148.7" cy="800.4" r="2.5"/>
<circle cx="144.4" cy="801.6" r="2.5"/>
<circle cx="146.3" cy="857.1" r="2.5"/>
<circle cx="261.7" cy="689.0" r="2.5"/>
<circle cx="256.7" cy="698.2" r="2.5"/>
<circle cx="256.7" cy="706.6" r="2.5"/>
<circle cx="264.8" cy="705.3" r="2.5"/>
<circle cx="260.7" cy="727.5" r="2.5"/>
<circle cx="269.1" cy="727.5" r="2.5"/>
<circle cx="262.2" cy="737.1" r="2.5"/>
<circle cx="260.4" cy="742.1" r="2.5"/>
<circle cx="265.9" cy="743.2" r="2.5"/>
<circle cx="262.6" cy="764.3" r="2.5"/>
<circle cx="271.3" cy="776.4" r="2.5"/>
<circle cx="260.7" cy="780.6" r="2.5"/>
<circle cx="264.4" cy="782.1" r="2.5"/>
<circle cx="258.5" cy="808.6" r="2.5"/>
<circle cx="266.9" cy="834.9" r="2.5"/>
<circle cx="263.1" cy="847.3" r="2.5"/>
<circle cx="381.1" cy="692.7" r="2.5"/>
<circle cx="378.7" cy="695.4" r="2.5"/>
<circle cx="372.8" cy="707.5" r="2.5"/>
<circle cx="376.5" cy="707.9" r="2.5"/>
<circle cx="379.3" cy="707.5" r="2.5"/>
<circle cx="374.6" cy="709.0" r="2.5"/>
<circle cx="378.9" cy="712.5" r="2.5"/>
<circle cx="371.9" cy="717.3" r="2.5"/>
<circle cx="375.2" cy="721.4" r="2.5"/>
<circle cx="376.9" cy="724.5" r="2.5"/>
<circle cx="366.7" cy="729.1" r="2.5"/>
<circle cx="371.9" cy="731.0" r="2.5"/>
<circle cx="375.6" cy="729.7" r="2.5"/>
<circle cx="375.2" cy="734.3" r="2.5"/>
<circle cx="381.5" cy="736.6" r="2.5"/>
<circle cx="368.1" cy="741.2" r="2.5"/>
<circle cx="378.7" cy="754.3" r="2.5"/>
<circle cx="379.6" cy="757.5" r="2.5"/>
<circle cx="375.2" cy="761.2" r="2.5"/>
<circle cx="380.2" cy="766.2" r="2.5"/>
<circle cx="380.2" cy="774.5" r="2.5"/>
<circle cx="377.0" cy="781.2" r="2.5"/>
<circle cx="378.9" cy="799.7" r="2.5"/>
<circle cx="379.3" cy="865.3" r="2.5"/>
<circle cx="497.4" cy="708.4" r="2.5"/>
<circle cx="494.4" cy="721.0" r="2.5"/>
<circle cx="487.6" cy="730.6" r="2.5"/>
<circle cx="494.4" cy="736.6" r="2.5"/>
<circle cx="490.0" cy="751.6" r="2.5"/>
<circle cx="493.7" cy="760.6" r="2.5"/>
<circle cx="490.4" cy="771.0" r="2.5"/>
<circle cx="494.1" cy="769.5" r="2.5"/>
<circle cx="495.9" cy="770.8" r="2.5"/>
<circle cx="496.3" cy="774.7" r="2.5"/>
<circle cx="494.1" cy="786.2" r="2.5"/>
<circle cx="498.1" cy="797.9" r="2.5"/>
<circle cx="490.7" cy="799.5" r="2.5"/>
<circle cx="493.1" cy="804.3" r="2.5"/>
<circle cx="490.0" cy="809.3" r="2.5"/>
<circle cx="490.4" cy="811.7" r="2.5"/>
<circle cx="498.1" cy="812.5" r="2.5"/>
<circle cx="492.6" cy="821.9" r="2.5"/>
<circle cx="497.8" cy="822.7" r="2.5"/>
<circle cx="483.3" cy="833.4" r="2.5"/>
<circle cx="495.9" cy="834.3" r="2.5"/>
<circle cx="497.8" cy="839.0" r="2.5"/>
<circle cx="141.9" cy="871.9" r="2.5"/>
<circle cx="146.3" cy="884.8" r="2.5"/>
<circle cx="140.4" cy="887.0" r="2.5"/>
<circle cx="144.1" cy="888.5" r="2.5"/>
<circle cx="145.0" cy="893.1" r="2.5"/>
<circle cx="147.8" cy="895.9" r="2.5"/>
<circle cx="149.3" cy="898.7" r="2.5"/>
<circle cx="148.7" cy="901.9" r="2.5"/>
<circle cx="143.1" cy="904.8" r="2.5"/>
<circle cx="147.8" cy="904.8" r="2.5"/>
<circle cx="149.6" cy="905.6" r="2.5"/>
<circle cx="141.9" cy="914.1" r="2.5"/>
<circle cx="150.6" cy="934.8" r="2.5"/>
<circle cx="141.9" cy="945.0" r="2.5"/>
<circle cx="146.9" cy="962.0" r="2.5"/>
<circle cx="142.8" cy="963.9" r="2.5"/>
<circle cx="145.4" cy="988.0" r="2.5"/>
<circle cx="141.7" cy="990.4" r="2.5"/>
<circle cx="150.6" cy="1023.7" r="2.5"/>
<circle cx="260.7" cy="870.0" r="2.5"/>
<circle cx="264.4" cy="870.9" r="2.5"/>
<circle cx="261.7" cy="875.6" r="2.5"/>
<circle cx="259.8" cy="878.3" r="2.5"/>
<circle cx="257.0" cy="880.7" r="2.5"/>
<circle cx="263.5" cy="883.0" r="2.5"/>
<circle cx="254.8" cy="888.9" r="2.5"/>
<circle cx="263.5" cy="888.5" r="2.5"/>
<circle cx="260.4" cy="894.1" r="2.5"/>
<circle cx="259.3" cy="902.8" r="2.5"/>
<circle cx="263.0" cy="901.9" r="2.5"/>
<circle cx="267.6" cy="906.7" r="2.5"/>
<circle cx="262.6" cy="908.9" r="2.5"/>
<circle cx="263.0" cy="911.7" r="2.5"/>
<circle cx="266.3" cy="914.4" r="2.5"/>
<circle cx="262.2" cy="917.8" r="2.5"/>
<circle cx="262.6" cy="920.9" r="2.5"/>
<circle cx="268.5" cy="923.1" r="2.5"/>
<circle cx="259.3" cy="930.6" r="2.5"/>
<circle cx="252.4" cy="941.3" r="2.5"/>
<circle cx="260.4" cy="947.4" r="2.5"/>
<circle cx="266.7" cy="949.1" r="2.5"/>
<circle cx="265.9" cy="956.1" r="2.5"/>
<circle cx="259.4" cy="957.0" r="2.5"/>
<circle cx="263.5" cy="972.2" r="2.5"/>
<circle cx="259.8" cy="1008.1" r="2.5"/>
<circle cx="379.3" cy="872.2" r="2.5"/>
<circle cx="381.1" cy="878.3" r="2.5"/>
<circle cx="376.5" cy="881.5" r="2.5"/>
<circle cx="375.2" cy="884.4" r="2.5"/>
<circle cx="371.9" cy="887.0" r="2.5"/>
<circle cx="376.5" cy="888.5" r="2.5"/>
<circle cx="378.3" cy="890.7" r="2.5"/>
<circle cx="375.9" cy="894.1" r="2.5"/>
<circle cx="380.2" cy="895.0" r="2.5"/>
<circle cx="381.5" cy="898.7" r="2.5"/>
<circle cx="381.1" cy="903.0" r="2.5"/>
<circle cx="374.6" cy="904.3" r="2.5"/>
<circle cx="375.6" cy="910.2" r="2.5"/>
<circle cx="380.7" cy="916.7" r="2.5"/>
<circle cx="374.3" cy="917.6" r="2.5"/>
<circle cx="382.0" cy="920.0" r="2.5"/>
<circle cx="375.9" cy="929.6" r="2.5"/>
<circle cx="376.5" cy="948.1" r="2.5"/>
<circle cx="374.1" cy="957.0" r="2.5"/>
<circle cx="378.0" cy="1053.3" r="2.5"/>
<circle cx="491.3" cy="871.9" r="2.5"/>
<circle cx="493.1" cy="876.5" r="2.5"/>
<circle cx="490.4" cy="878.9" r="2.5"/>
<circle cx="494.1" cy="879.3" r="2.5"/>
<circle cx="497.8" cy="883.3" r="2.5"/>
<circle cx="485.7" cy="885.7" r="2.5"/>
<circle cx="489.4" cy="887.6" r="2.5"/>
<circle cx="496.9" cy="888.5" r="2.5"/>
<circle cx="492.6" cy="893.1" r="2.5"/>
<circle cx="494.4" cy="897.2" r="2.5"/>
<circle cx="491.9" cy="899.6" r="2.5"/>
<circle cx="490.4" cy="904.6" r="2.5"/>
<circle cx="492.2" cy="906.1" r="2.5"/>
<circle cx="498.1" cy="909.8" r="2.5"/>
<circle cx="495.9" cy="912.6" r="2.5"/>
<circle cx="490.9" cy="913.9" r="2.5"/>
<circle cx="492.6" cy="914.8" r="2.5"/>
<circle cx="488.5" cy="931.1" r="2.5"/>
<circle cx="487.2" cy="935.2" r="2.5"/>
<circle cx="495.9" cy="935.4" r="2.5"/>
<circle cx="487.6" cy="939.8" r="2.5"/>
<circle cx="496.9" cy="990.9" r="2.5"/>
</g>
<g class="sr">
<circle cx="696.0" cy="681.0" r="2.5"/>
<circle cx="692.7" cy="688.0" r="2.5"/>
<circle cx="693.3" cy="691.7" r="2.5"/>
<circle cx="684.0" cy="695.4" r="2.5"/>
<circle cx="688.1" cy="696.4" r="2.5"/>
<circle cx="691.8" cy="695.4" r="2.5"/>
<circle cx="695.5" cy="697.3" r="2.5"/>
<circle cx="687.1" cy="699.1" r="2.5"/>
<circle cx="690.9" cy="699.1" r="2.5"/>
<circle cx="693.6" cy="700.1" r="2.5"/>
<circle cx="697.3" cy="701.0" r="2.5"/>
<circle cx="689.0" cy="701.9" r="2.5"/>
<circle cx="691.8" cy="702.9" r="2.5"/>
<circle cx="694.6" cy="703.8" r="2.5"/>
<circle cx="689.9" cy="705.6" r="2.5"/>
<circle cx="692.7" cy="706.6" r="2.5"/>
<circle cx="687.7" cy="706.6" r="2.5"/>
<circle cx="691.8" cy="709.3" r="2.5"/>
<circle cx="693.6" cy="710.3" r="2.5"/>
<circle cx="689.9" cy="697.9" r="2.5"/>
<circle cx="692.1" cy="700.6" r="2.5"/>
<circle cx="691.0" cy="704.1" r="2.5"/>
<circle cx="687.7" cy="723.2" r="2.5"/>
<circle cx="689.0" cy="730.3" r="2.5"/>
<circle cx="693.1" cy="731.6" r="2.5"/>
<circle cx="689.0" cy="742.7" r="2.5"/>
<circle cx="685.9" cy="750.6" r="2.5"/>
<circle cx="804.2" cy="681.2" r="2.5"/>
<circle cx="804.2" cy="689.0" r="2.5"/>
<circle cx="805.1" cy="691.7" r="2.5"/>
<circle cx="800.1" cy="698.2" r="2.5"/>
<circle cx="804.7" cy="698.2" r="2.5"/>
<circle cx="809.7" cy="698.2" r="2.5"/>
<circle cx="804.2" cy="702.9" r="2.5"/>
<circle cx="814.0" cy="711.7" r="2.5"/>
<circle cx="799.6" cy="718.6" r="2.5"/>
<circle cx="805.7" cy="720.4" r="2.5"/>
<circle cx="810.3" cy="719.1" r="2.5"/>
<circle cx="806.2" cy="726.0" r="2.5"/>
<circle cx="807.5" cy="731.6" r="2.5"/>
<circle cx="806.6" cy="733.4" r="2.5"/>
<circle cx="803.8" cy="736.6" r="2.5"/>
<circle cx="804.7" cy="755.3" r="2.5"/>
<circle cx="799.6" cy="805.6" r="2.5"/>
<circle cx="912.7" cy="683.8" r="2.5"/>
<circle cx="925.5" cy="684.3" r="2.5"/>
<circle cx="923.3" cy="687.1" r="2.5"/>
<circle cx="929.2" cy="687.5" r="2.5"/>
<circle cx="921.4" cy="690.8" r="2.5"/>
<circle cx="924.2" cy="691.2" r="2.5"/>
<circle cx="920.5" cy="694.5" r="2.5"/>
<circle cx="922.3" cy="696.4" r="2.5"/>
<circle cx="912.1" cy="699.1" r="2.5"/>
<circle cx="915.9" cy="699.1" r="2.5"/>
<circle cx="919.6" cy="699.1" r="2.5"/>
<circle cx="923.3" cy="699.7" r="2.5"/>
<circle cx="921.4" cy="702.9" r="2.5"/>
<circle cx="924.2" cy="703.8" r="2.5"/>
<circle cx="920.5" cy="706.6" r="2.5"/>
<circle cx="915.5" cy="710.6" r="2.5"/>
<circle cx="920.5" cy="710.3" r="2.5"/>
<circle cx="923.3" cy="709.3" r="2.5"/>
<circle cx="921.4" cy="712.1" r="2.5"/>
<circle cx="925.5" cy="721.4" r="2.5"/>
<circle cx="919.2" cy="724.7" r="2.5"/>
<circle cx="930.1" cy="725.6" r="2.5"/>
<circle cx="927.0" cy="728.8" r="2.5"/>
<circle cx="923.6" cy="744.5" r="2.5"/>
<circle cx="1037.1" cy="685.3" r="2.5"/>
<circle cx="1033.4" cy="688.0" r="2.5"/>
<circle cx="1038.1" cy="688.6" r="2.5"/>
<circle cx="1046.4" cy="688.6" r="2.5"/>
<circle cx="1038.1" cy="694.5" r="2.5"/>
<circle cx="1029.7" cy="698.2" r="2.5"/>
<circle cx="1032.5" cy="699.1" r="2.5"/>
<circle cx="1035.3" cy="699.7" r="2.5"/>
<circle cx="1034.4" cy="701.9" r="2.5"/>
<circle cx="1041.8" cy="703.8" r="2.5"/>
<circle cx="1042.7" cy="706.0" r="2.5"/>
<circle cx="1034.0" cy="706.2" r="2.5"/>
<circle cx="1034.7" cy="719.9" r="2.5"/>
<circle cx="1034.4" cy="730.6" r="2.5"/>
<circle cx="1036.2" cy="732.5" r="2.5"/>
<circle cx="696.4" cy="891.7" r="2.5"/>
<circle cx="687.1" cy="988.0" r="2.5"/>
<circle cx="691.8" cy="988.0" r="2.5"/>
<circle cx="694.6" cy="986.7" r="2.5"/>
<circle cx="695.9" cy="987.0" r="2.5"/>
<circle cx="686.2" cy="991.7" r="2.5"/>
<circle cx="686.6" cy="992.6" r="2.5"/>
<circle cx="701.4" cy="1003.7" r="2.5"/>
<circle cx="696.4" cy="1009.3" r="2.5"/>
<circle cx="689.9" cy="1012.6" r="2.5"/>
<circle cx="695.5" cy="1023.7" r="2.5"/>
<circle cx="682.5" cy="1028.3" r="2.5"/>
<circle cx="688.1" cy="1030.7" r="2.5"/>
<circle cx="690.9" cy="1030.7" r="2.5"/>
<circle cx="693.3" cy="1031.7" r="2.5"/>
<circle cx="689.9" cy="1032.4" r="2.5"/>
<circle cx="691.8" cy="1033.5" r="2.5"/>
<circle cx="802.9" cy="925.2" r="2.5"/>
<circle cx="814.9" cy="927.0" r="2.5"/>
<circle cx="806.2" cy="939.4" r="2.5"/>
<circle cx="808.4" cy="958.3" r="2.5"/>
<circle cx="802.9" cy="965.7" r="2.5"/>
<circle cx="804.7" cy="973.7" r="2.5"/>
<circle cx="805.1" cy="974.6" r="2.5"/>
<circle cx="802.9" cy="986.7" r="2.5"/>
<circle cx="806.2" cy="993.1" r="2.5"/>
<circle cx="808.4" cy="995.9" r="2.5"/>
<circle cx="812.7" cy="996.9" r="2.5"/>
<circle cx="809.4" cy="1000.6" r="2.5"/>
<circle cx="805.7" cy="1002.4" r="2.5"/>
<circle cx="797.7" cy="1005.2" r="2.5"/>
<circle cx="806.6" cy="1010.2" r="2.5"/>
<circle cx="809.4" cy="1010.7" r="2.5"/>
<circle cx="805.7" cy="1012.2" r="2.5"/>
<circle cx="808.4" cy="1013.5" r="2.5"/>
<circle cx="809.4" cy="1016.3" r="2.5"/>
<circle cx="805.7" cy="1022.2" r="2.5"/>
<circle cx="813.4" cy="1031.1" r="2.5"/>
<circle cx="805.7" cy="1036.7" r="2.5"/>
<circle cx="809.7" cy="1038.5" r="2.5"/>
<circle cx="806.6" cy="1042.2" r="2.5"/>
<circle cx="813.6" cy="1043.1" r="2.5"/>
<circle cx="804.7" cy="1044.4" r="2.5"/>
<circle cx="799.2" cy="1046.3" r="2.5"/>
<circle cx="929.2" cy="970.9" r="2.5"/>
<circle cx="923.3" cy="992.6" r="2.5"/>
<circle cx="920.5" cy="993.7" r="2.5"/>
<circle cx="918.1" cy="995.0" r="2.5"/>
<circle cx="921.4" cy="995.9" r="2.5"/>
<circle cx="925.1" cy="999.1" r="2.5"/>
<circle cx="919.2" cy="1004.6" r="2.5"/>
<circle cx="924.2" cy="1005.2" r="2.5"/>
<circle cx="927.9" cy="1004.6" r="2.5"/>
<circle cx="923.6" cy="1010.2" r="2.5"/>
<circle cx="920.5" cy="1018.1" r="2.5"/>
<circle cx="921.4" cy="1020.0" r="2.5"/>
<circle cx="920.5" cy="1022.8" r="2.5"/>
<circle cx="925.1" cy="1025.2" r="2.5"/>
<circle cx="920.5" cy="1027.4" r="2.5"/>
<circle cx="921.4" cy="1044.6" r="2.5"/>
<circle cx="923.6" cy="1050.9" r="2.5"/>
<circle cx="1036.6" cy="978.0" r="2.5"/>
<circle cx="1038.4" cy="985.7" r="2.5"/>
<circle cx="1034.4" cy="993.7" r="2.5"/>
<circle cx="1036.2" cy="996.9" r="2.5"/>
<circle cx="1034.9" cy="999.6" r="2.5"/>
<circle cx="1037.1" cy="1003.7" r="2.5"/>
<circle cx="1032.0" cy="1006.5" r="2.5"/>
<circle cx="1039.0" cy="1008.0" r="2.5"/>
<circle cx="1040.9" cy="1010.2" r="2.5"/>
<circle cx="1038.4" cy="1012.6" r="2.5"/>
<circle cx="1034.4" cy="1015.4" r="2.5"/>
<circle cx="1043.1" cy="1016.9" r="2.5"/>
<circle cx="1039.9" cy="1018.1" r="2.5"/>
<circle cx="1036.2" cy="1020.9" r="2.5"/>
<circle cx="1042.7" cy="1022.8" r="2.5"/>
<circle cx="1035.9" cy="1024.3" r="2.5"/>
<circle cx="1034.9" cy="1028.3" r="2.5"/>
<circle cx="1032.5" cy="1031.5" r="2.5"/>
<circle cx="1035.3" cy="1031.5" r="2.5"/>
<circle cx="1038.4" cy="1033.5" r="2.5"/>
<circle cx="1038.6" cy="1039.4" r="2.5"/>
<circle cx="1033.8" cy="1043.1" r="2.5"/>
<circle cx="1037.1" cy="1045.0" r="2.5"/>
<circle cx="1037.5" cy="1047.8" r="2.5"/>
</g>
<g class="sb">
<circle cx="1237.8" cy="694.1" r="2.5"/>
<circle cx="1238.7" cy="701.0" r="2.5"/>
<circle cx="1235.6" cy="704.7" r="2.5"/>
<circle cx="1237.4" cy="707.5" r="2.5"/>
<circle cx="1232.6" cy="710.8" r="2.5"/>
<circle cx="1235.9" cy="711.2" r="2.5"/>
<circle cx="1240.6" cy="711.7" r="2.5"/>
<circle cx="1237.4" cy="714.9" r="2.5"/>
<circle cx="1237.4" cy="720.4" r="2.5"/>
<circle cx="1237.8" cy="723.8" r="2.5"/>
<circle cx="1237.4" cy="726.4" r="2.5"/>
<circle cx="1238.1" cy="728.8" r="2.5"/>
<circle cx="1231.9" cy="731.6" r="2.5"/>
<circle cx="1229.4" cy="735.3" r="2.5"/>
<circle cx="1239.6" cy="735.3" r="2.5"/>
<circle cx="1240.6" cy="736.7" r="2.5"/>
<circle cx="1234.1" cy="749.1" r="2.5"/>
<circle cx="1231.3" cy="753.8" r="2.5"/>
<circle cx="1227.6" cy="757.5" r="2.5"/>
<circle cx="1234.4" cy="760.3" r="2.5"/>
<circle cx="1226.3" cy="764.3" r="2.5"/>
<circle cx="1237.8" cy="766.7" r="2.5"/>
<circle cx="1239.3" cy="768.6" r="2.5"/>
<circle cx="1236.9" cy="779.1" r="2.5"/>
<circle cx="1228.5" cy="789.3" r="2.5"/>
<circle cx="1236.9" cy="794.5" r="2.5"/>
<circle cx="1234.1" cy="799.1" r="2.5"/>
<circle cx="1238.7" cy="801.6" r="2.5"/>
<circle cx="1226.7" cy="802.9" r="2.5"/>
<circle cx="1229.4" cy="836.2" r="2.5"/>
<circle cx="1234.1" cy="860.3" r="2.5"/>
<circle cx="1355.7" cy="694.0" r="2.5"/>
<circle cx="1348.3" cy="704.7" r="2.5"/>
<circle cx="1342.0" cy="715.3" r="2.5"/>
<circle cx="1357.6" cy="714.0" r="2.5"/>
<circle cx="1355.0" cy="715.8" r="2.5"/>
<circle cx="1352.2" cy="717.7" r="2.5"/>
<circle cx="1343.3" cy="721.9" r="2.5"/>
<circle cx="1360.0" cy="723.8" r="2.5"/>
<circle cx="1345.2" cy="726.0" r="2.5"/>
<circle cx="1357.2" cy="727.9" r="2.5"/>
<circle cx="1352.2" cy="730.6" r="2.5"/>
<circle cx="1358.1" cy="734.3" r="2.5"/>
<circle cx="1348.9" cy="748.2" r="2.5"/>
<circle cx="1348.3" cy="756.6" r="2.5"/>
<circle cx="1354.1" cy="758.4" r="2.5"/>
<circle cx="1352.2" cy="760.6" r="2.5"/>
<circle cx="1347.0" cy="767.7" r="2.5"/>
<circle cx="1351.1" cy="770.4" r="2.5"/>
<circle cx="1350.2" cy="775.1" r="2.5"/>
<circle cx="1343.7" cy="778.8" r="2.5"/>
<circle cx="1349.8" cy="779.7" r="2.5"/>
<circle cx="1352.6" cy="781.6" r="2.5"/>
<circle cx="1355.4" cy="782.1" r="2.5"/>
<circle cx="1354.4" cy="788.0" r="2.5"/>
<circle cx="1352.2" cy="789.9" r="2.5"/>
<circle cx="1347.0" cy="793.0" r="2.5"/>
<circle cx="1346.1" cy="797.3" r="2.5"/>
<circle cx="1352.6" cy="812.1" r="2.5"/>
<circle cx="1354.4" cy="831.6" r="2.5"/>
<circle cx="1349.3" cy="836.2" r="2.5"/>
<circle cx="1355.7" cy="835.6" r="2.5"/>
<circle cx="1348.5" cy="849.5" r="2.5"/>
<circle cx="1469.3" cy="688.4" r="2.5"/>
<circle cx="1462.4" cy="692.1" r="2.5"/>
<circle cx="1471.7" cy="700.6" r="2.5"/>
<circle cx="1465.0" cy="703.2" r="2.5"/>
<circle cx="1466.5" cy="706.6" r="2.5"/>
<circle cx="1468.0" cy="709.7" r="2.5"/>
<circle cx="1468.9" cy="712.7" r="2.5"/>
<circle cx="1470.2" cy="715.4" r="2.5"/>
<circle cx="1458.1" cy="716.7" r="2.5"/>
<circle cx="1461.9" cy="715.8" r="2.5"/>
<circle cx="1466.5" cy="722.3" r="2.5"/>
<circle cx="1463.7" cy="724.5" r="2.5"/>
<circle cx="1461.5" cy="732.1" r="2.5"/>
<circle cx="1465.2" cy="735.3" r="2.5"/>
<circle cx="1462.8" cy="740.8" r="2.5"/>
<circle cx="1464.6" cy="743.6" r="2.5"/>
<circle cx="1466.5" cy="746.4" r="2.5"/>
<circle cx="1469.8" cy="747.3" r="2.5"/>
<circle cx="1465.2" cy="749.1" r="2.5"/>
<circle cx="1469.3" cy="751.9" r="2.5"/>
<circle cx="1467.0" cy="754.7" r="2.5"/>
<circle cx="1471.1" cy="756.9" r="2.5"/>
<circle cx="1463.7" cy="759.3" r="2.5"/>
<circle cx="1460.9" cy="762.1" r="2.5"/>
<circle cx="1466.5" cy="764.0" r="2.5"/>
<circle cx="1459.1" cy="766.7" r="2.5"/>
<circle cx="1462.8" cy="767.7" r="2.5"/>
<circle cx="1457.8" cy="770.1" r="2.5"/>
<circle cx="1465.6" cy="773.2" r="2.5"/>
<circle cx="1468.0" cy="804.7" r="2.5"/>
<circle cx="1471.1" cy="869.0" r="2.5"/>
<circle cx="1578.0" cy="692.7" r="2.5"/>
<circle cx="1581.3" cy="703.8" r="2.5"/>
<circle cx="1584.4" cy="704.1" r="2.5"/>
<circle cx="1579.8" cy="711.2" r="2.5"/>
<circle cx="1585.0" cy="712.7" r="2.5"/>
<circle cx="1577.6" cy="716.7" r="2.5"/>
<circle cx="1581.9" cy="715.3" r="2.5"/>
<circle cx="1584.1" cy="719.5" r="2.5"/>
<circle cx="1583.1" cy="724.5" r="2.5"/>
<circle cx="1577.2" cy="726.9" r="2.5"/>
<circle cx="1575.4" cy="730.3" r="2.5"/>
<circle cx="1580.4" cy="729.7" r="2.5"/>
<circle cx="1584.1" cy="734.0" r="2.5"/>
<circle cx="1580.0" cy="737.1" r="2.5"/>
<circle cx="1584.1" cy="739.9" r="2.5"/>
<circle cx="1581.3" cy="742.7" r="2.5"/>
<circle cx="1585.6" cy="746.9" r="2.5"/>
<circle cx="1580.4" cy="749.1" r="2.5"/>
<circle cx="1575.7" cy="751.9" r="2.5"/>
<circle cx="1583.1" cy="751.9" r="2.5"/>
<circle cx="1581.3" cy="762.1" r="2.5"/>
<circle cx="1582.2" cy="785.3" r="2.5"/>
<circle cx="1587.2" cy="790.8" r="2.5"/>
<circle cx="1582.8" cy="791.7" r="2.5"/>
<circle cx="1582.2" cy="795.8" r="2.5"/>
<circle cx="1575.4" cy="806.2" r="2.5"/>
<circle cx="1577.6" cy="809.7" r="2.5"/>
<circle cx="1581.9" cy="810.6" r="2.5"/>
<circle cx="1577.6" cy="820.1" r="2.5"/>
<circle cx="1582.2" cy="819.5" r="2.5"/>
<circle cx="1585.6" cy="839.5" r="2.5"/>
<circle cx="1580.4" cy="757.5" r="2.5"/>
<circle cx="1582.6" cy="768.6" r="2.5"/>
<circle cx="1579.4" cy="776.0" r="2.5"/>
<circle cx="1584.1" cy="779.7" r="2.5"/>
<circle cx="1234.1" cy="890.4" r="2.5"/>
<circle cx="1237.2" cy="907.4" r="2.5"/>
<circle cx="1234.6" cy="953.7" r="2.5"/>
<circle cx="1235.9" cy="966.7" r="2.5"/>
<circle cx="1237.4" cy="974.6" r="2.5"/>
<circle cx="1235.0" cy="980.2" r="2.5"/>
<circle cx="1230.4" cy="1019.4" r="2.5"/>
<circle cx="1237.8" cy="1024.3" r="2.5"/>
<circle cx="1237.2" cy="1032.4" r="2.5"/>
<circle cx="1237.8" cy="1044.6" r="2.5"/>
<circle cx="1346.1" cy="879.6" r="2.5"/>
<circle cx="1343.7" cy="906.1" r="2.5"/>
<circle cx="1345.2" cy="906.5" r="2.5"/>
<circle cx="1345.2" cy="1009.3" r="2.5"/>
<circle cx="1347.0" cy="1013.0" r="2.5"/>
<circle cx="1351.7" cy="1014.8" r="2.5"/>
<circle cx="1356.3" cy="1018.1" r="2.5"/>
<circle cx="1340.6" cy="1024.3" r="2.5"/>
<circle cx="1351.3" cy="1022.8" r="2.5"/>
<circle cx="1347.4" cy="1032.4" r="2.5"/>
<circle cx="1351.1" cy="1046.9" r="2.5"/>
<circle cx="1351.7" cy="1048.7" r="2.5"/>
<circle cx="1471.1" cy="923.1" r="2.5"/>
<circle cx="1467.4" cy="963.5" r="2.5"/>
<circle cx="1469.3" cy="964.4" r="2.5"/>
<circle cx="1466.1" cy="989.1" r="2.5"/>
<circle cx="1467.8" cy="996.9" r="2.5"/>
<circle cx="1464.1" cy="999.3" r="2.5"/>
<circle cx="1465.6" cy="1004.3" r="2.5"/>
<circle cx="1467.0" cy="1021.5" r="2.5"/>
<circle cx="1464.6" cy="1023.7" r="2.5"/>
<circle cx="1469.3" cy="1039.4" r="2.5"/>
<circle cx="1464.6" cy="1049.3" r="2.5"/>
<circle cx="1463.7" cy="1052.4" r="2.5"/>
<circle cx="1582.8" cy="979.6" r="2.5"/>
<circle cx="1580.4" cy="998.7" r="2.5"/>
</g>
<g class="sr">
<circle cx="2126.2" cy="1016.5" r="2.5"/>
<circle cx="2005.5" cy="1016.0" r="2.5"/>
</g>
<g class="sb">
<circle cx="2006.1" cy="976.5" r="2.5"/>
<circle cx="2127.1" cy="708.4" r="2.5"/>
<circle cx="2124.0" cy="882.0" r="2.5"/>
<circle cx="1781.7" cy="1035.0" r="2.5"/>
<circle cx="2129.1" cy="1039.0" r="2.5"/>
<circle cx="1779.4" cy="1010.0" r="2.5"/>
<circle cx="2015.1" cy="724.5" r="2.5"/>
<circle cx="1787.7" cy="1027.9" r="2.5"/>
<circle cx="1781.4" cy="738.0" r="2.5"/>
<circle cx="1892.9" cy="751.0" r="2.5"/>
</g>
<g class="sr">
<circle cx="2125.9" cy="888.0" r="2.5"/>
<circle cx="1890.0" cy="1041.5" r="2.5"/>
</g>
<g class="sb">
<circle cx="1782.6" cy="1023.9" r="2.5"/>
</g>
<g class="sr">
<circle cx="2126.2" cy="1002.6" r="2.5"/>
</g>
<g class="sb">
<circle cx="2120.2" cy="1014.6" r="2.5"/>
<circle cx="2129.9" cy="732.5" r="2.5"/>
</g>
<g class="sr">
<circle cx="2125.3" cy="701.0" r="2.5"/>
<circle cx="1782.7" cy="730.6" r="2.5"/>
<circle cx="2127.6" cy="991.9" r="2.5"/>
</g>
<g class="sb">
<circle cx="2013.6" cy="1010.9" r="2.5"/>
</g>
<g class="sr">
<circle cx="1893.1" cy="1017.7" r="2.5"/>
<circle cx="2013.3" cy="856.6" r="2.5"/>
<circle cx="2014.2" cy="842.1" r="2.5"/>
</g>
<g class="sb">
<circle cx="2125.3" cy="1036.9" r="2.5"/>
</g>
<g class="sr">
<circle cx="2117.0" cy="716.7" r="2.5"/>
<circle cx="1772.1" cy="694.5" r="2.5"/>
</g>
<g class="sb">
<circle cx="1780.7" cy="1018.3" r="2.5"/>
</g>
<g class="sr">
<circle cx="1896.2" cy="703.8" r="2.5"/>
</g>
<g class="sb">
<circle cx="1779.6" cy="751.9" r="2.5"/>
<circle cx="2122.7" cy="1038.2" r="2.5"/>
</g>
<g class="sr">
<circle cx="2012.0" cy="879.6" r="2.5"/>
</g>
<g class="sb">
<circle cx="2005.8" cy="1021.1" r="2.5"/>
<circle cx="1779.4" cy="1036.9" r="2.5"/>
<circle cx="2013.3" cy="740.8" r="2.5"/>
<circle cx="2011.4" cy="1008.1" r="2.5"/>
</g>
<g class="sr">
<circle cx="1896.8" cy="1013.3" r="2.5"/>
<circle cx="1783.1" cy="1053.5" r="2.5"/>
</g>
<g class="sb">
<circle cx="2125.0" cy="1026.2" r="2.5"/>
<circle cx="2130.9" cy="748.6" r="2.5"/>
<circle cx="2001.2" cy="1041.3" r="2.5"/>
<circle cx="2005.9" cy="764.9" r="2.5"/>
<circle cx="2010.5" cy="690.8" r="2.5"/>
</g>
<g class="sr">
<circle cx="2012.9" cy="850.1" r="2.5"/>
<circle cx="1784.0" cy="1036.4" r="2.5"/>
</g>
<g class="sb">
<circle cx="1897.0" cy="767.1" r="2.5"/>
<circle cx="2014.1" cy="1036.9" r="2.5"/>
<circle cx="1787.7" cy="810.6" r="2.5"/>
</g>
<g class="sr">
<circle cx="1888.6" cy="703.2" r="2.5"/>
<circle cx="2011.8" cy="826.9" r="2.5"/>
<circle cx="1895.6" cy="1047.5" r="2.5"/>
<circle cx="1891.9" cy="1005.4" r="2.5"/>
<circle cx="1894.7" cy="695.4" r="2.5"/>
<circle cx="1902.9" cy="996.1" r="2.5"/>
</g>
<g class="sb">
<circle cx="1784.4" cy="1004.4" r="2.5"/>
<circle cx="1902.6" cy="1014.8" r="2.5"/>
</g>
<g class="sr">
<circle cx="2125.3" cy="986.9" r="2.5"/>
</g>
<g class="sb">
<circle cx="2129.4" cy="768.2" r="2.5"/>
<circle cx="1779.8" cy="1033.1" r="2.5"/>
<circle cx="1893.8" cy="723.6" r="2.5"/>
<circle cx="2012.3" cy="738.0" r="2.5"/>
<circle cx="1897.4" cy="1043.8" r="2.5"/>
</g>
<g class="sr">
<circle cx="1892.8" cy="983.6" r="2.5"/>
</g>
<g class="sb">
<circle cx="2010.4" cy="1011.4" r="2.5"/>
</g>
<g class="sr">
<circle cx="1900.8" cy="1029.5" r="2.5"/>
</g>
<g class="sb">
<circle cx="1781.2" cy="1021.6" r="2.5"/>
</g>
<g class="sr">
<circle cx="2129.0" cy="701.9" r="2.5"/>
</g>
<g class="sb">
<circle cx="2124.9" cy="725.6" r="2.5"/>
</g>
<g class="sr">
<circle cx="2011.4" cy="695.4" r="2.5"/>
<circle cx="2008.7" cy="1013.5" r="2.5"/>
</g>
<g class="sb">
<circle cx="1901.2" cy="699.7" r="2.5"/>
<circle cx="1786.3" cy="1031.3" r="2.5"/>
</g>
<g class="sr">
<circle cx="2129.6" cy="744.5" r="2.5"/>
</g>
<g class="sb">
<circle cx="1781.2" cy="1047.0" r="2.5"/>
<circle cx="1895.7" cy="693.6" r="2.5"/>
</g>
<g class="sr">
<circle cx="2010.5" cy="688.0" r="2.5"/>
<circle cx="1896.6" cy="953.9" r="2.5"/>
</g>
<g class="sb">
<circle cx="2127.9" cy="1012.8" r="2.5"/>
<circle cx="2122.5" cy="995.2" r="2.5"/>
</g>
<g class="sr">
<circle cx="2127.1" cy="1009.1" r="2.5"/>
<circle cx="2018.8" cy="1017.4" r="2.5"/>
</g>
<g class="sb">
<circle cx="2006.3" cy="1017.4" r="2.5"/>
</g>
<g class="sr">
<circle cx="1888.0" cy="1011.9" r="2.5"/>
<circle cx="2014.6" cy="1026.7" r="2.5"/>
</g>
<g class="sb">
<circle cx="2129.4" cy="1051.7" r="2.5"/>
</g>
<g class="sr">
<circle cx="2005.9" cy="702.9" r="2.5"/>
</g>
<g class="sb">
<circle cx="1896.6" cy="756.9" r="2.5"/>
<circle cx="2011.0" cy="877.4" r="2.5"/>
<circle cx="1898.8" cy="1001.7" r="2.5"/>
</g>
<g class="sr">
<circle cx="1896.5" cy="971.6" r="2.5"/>
<circle cx="2009.1" cy="1027.1" r="2.5"/>
<circle cx="2127.7" cy="683.8" r="2.5"/>
</g>
<g class="sb">
<circle cx="2012.8" cy="1010.3" r="2.5"/>
<circle cx="1893.8" cy="737.1" r="2.5"/>
</g>
<g class="sr">
<circle cx="2015.5" cy="712.7" r="2.5"/>
</g>
<g class="sb">
<circle cx="1902.5" cy="1000.7" r="2.5"/>
<circle cx="2122.5" cy="1023.9" r="2.5"/>
<circle cx="1894.9" cy="1016.9" r="2.5"/>
<circle cx="2131.6" cy="1015.5" r="2.5"/>
<circle cx="2006.2" cy="729.7" r="2.5"/>
</g>
<g class="sr">
<circle cx="2017.9" cy="699.7" r="2.5"/>
<circle cx="2123.4" cy="1029.4" r="2.5"/>
<circle cx="1897.4" cy="1035.0" r="2.5"/>
</g>
<g class="sb">
<circle cx="2004.4" cy="736.6" r="2.5"/>
</g>
<g class="sr">
<circle cx="2130.9" cy="705.6" r="2.5"/>
</g>
<g class="sb">
<circle cx="2125.3" cy="1026.8" r="2.5"/>
<circle cx="1785.4" cy="1013.7" r="2.5"/>
<circle cx="1782.1" cy="1038.7" r="2.5"/>
<circle cx="1894.2" cy="739.9" r="2.5"/>
</g>
<g class="sr">
<circle cx="1780.5" cy="756.9" r="2.5"/>
</g>
<g class="sb">
<circle cx="2134.1" cy="1026.2" r="2.5"/>
<circle cx="1900.2" cy="1042.9" r="2.5"/>
</g>
<g class="sr">
<circle cx="1891.9" cy="1017.4" r="2.5"/>
</g>
<g class="sb">
<circle cx="1892.5" cy="746.4" r="2.5"/>
</g>
<g class="sr">
<circle cx="2013.3" cy="691.7" r="2.5"/>
</g>
<g class="sb">
<circle cx="1900.3" cy="713.0" r="2.5"/>
<circle cx="1890.5" cy="985.9" r="2.5"/>
<circle cx="2124.9" cy="784.7" r="2.5"/>
</g>
<g class="sr">
<circle cx="1903.6" cy="719.0" r="2.5"/>
</g>
<g class="sb">
<circle cx="2009.8" cy="1007.5" r="2.5"/>
</g>
<g class="sr">
<circle cx="1898.8" cy="732.9" r="2.5"/>
<circle cx="2122.5" cy="715.8" r="2.5"/>
</g>
<g class="sb">
<circle cx="1778.4" cy="976.2" r="2.5"/>
<circle cx="2009.5" cy="995.6" r="2.5"/>
</g>
<g class="sr">
<circle cx="2009.6" cy="708.4" r="2.5"/>
<circle cx="2128.0" cy="1031.3" r="2.5"/>
</g>
<g class="sb">
<circle cx="1897.1" cy="807.1" r="2.5"/>
</g>
<g class="sr">
<circle cx="2007.7" cy="1014.6" r="2.5"/>
</g>
<g class="sb">
<circle cx="1784.0" cy="978.5" r="2.5"/>
</g>
<g class="sr">
<circle cx="1781.8" cy="724.5" r="2.5"/>
<circle cx="1891.0" cy="714.5" r="2.5"/>
</g>
<g class="sb">
<circle cx="2126.7" cy="1022.3" r="2.5"/>
</g>
<g class="sr">
<circle cx="1783.6" cy="712.1" r="2.5"/>
</g>
<g class="sb">
<circle cx="2005.8" cy="1041.5" r="2.5"/>
</g>
<g class="sr">
<circle cx="1893.2" cy="1008.1" r="2.5"/>
</g>
<g class="sb">
<circle cx="2130.8" cy="1005.4" r="2.5"/>
<circle cx="1783.1" cy="999.4" r="2.5"/>
<circle cx="2130.9" cy="739.9" r="2.5"/>
</g>
<g class="sr">
<circle cx="1778.1" cy="698.2" r="2.5"/>
</g>
<g class="sb">
<circle cx="2010.8" cy="1028.1" r="2.5"/>
</g>
<g class="sr">
<circle cx="2016.0" cy="704.7" r="2.5"/>
<circle cx="2016.6" cy="693.6" r="2.5"/>
</g>
<g class="sb">
<circle cx="1782.8" cy="1052.5" r="2.5"/>
<circle cx="1779.9" cy="756.6" r="2.5"/>
</g>
<g class="sr">
<circle cx="2128.0" cy="1004.3" r="2.5"/>
<circle cx="1781.2" cy="1003.5" r="2.5"/>
</g>
<g class="sb">
<circle cx="2120.2" cy="1004.4" r="2.5"/>
<circle cx="1783.9" cy="1008.3" r="2.5"/>
</g>
<g class="sr">
<circle cx="2006.3" cy="1006.7" r="2.5"/>
<circle cx="1774.3" cy="998.9" r="2.5"/>
<circle cx="2127.6" cy="979.4" r="2.5"/>
</g>
<g class="sb">
<circle cx="1780.0" cy="985.5" r="2.5"/>
</g>
<g class="sr">
<circle cx="1892.7" cy="1032.3" r="2.5"/>
</g>
<g class="sb">
<circle cx="2128.1" cy="751.9" r="2.5"/>
</g>
<g class="sr">
<circle cx="2009.1" cy="1052.6" r="2.5"/>
<circle cx="1897.4" cy="1052.6" r="2.5"/>
</g>
<g class="sb">
<circle cx="1896.0" cy="785.3" r="2.5"/>
<circle cx="1889.2" cy="684.7" r="2.5"/>
<circle cx="2122.0" cy="721.4" r="2.5"/>
</g>
<g class="sr">
<circle cx="1780.9" cy="688.0" r="2.5"/>
<circle cx="1896.9" cy="1050.3" r="2.5"/>
<circle cx="2008.6" cy="1049.4" r="2.5"/>
</g>
<g class="sb">
<circle cx="2129.9" cy="756.0" r="2.5"/>
<circle cx="2135.9" cy="802.3" r="2.5"/>
</g>
<g class="sr">
<circle cx="2011.4" cy="712.1" r="2.5"/>
</g>
<g class="sb">
<circle cx="2120.6" cy="1033.1" r="2.5"/>
<circle cx="2012.7" cy="765.8" r="2.5"/>
<circle cx="2126.2" cy="755.6" r="2.5"/>
<circle cx="1775.2" cy="1001.7" r="2.5"/>
</g>
<g class="sr">
<circle cx="1774.7" cy="1007.7" r="2.5"/>
<circle cx="2131.8" cy="714.9" r="2.5"/>
</g>
<g class="sb">
<circle cx="1893.7" cy="1038.7" r="2.5"/>
</g>
<g class="sr">
<circle cx="1892.8" cy="1043.3" r="2.5"/>
</g>
<g class="sb">
<circle cx="2126.2" cy="792.7" r="2.5"/>
<circle cx="1891.9" cy="977.6" r="2.5"/>
</g>
<g class="sr">
<circle cx="2006.8" cy="721.7" r="2.5"/>
<circle cx="1784.6" cy="695.4" r="2.5"/>
<circle cx="1779.9" cy="795.1" r="2.5"/>
<circle cx="1896.5" cy="1039.6" r="2.5"/>
</g>
<g class="sb">
<circle cx="1898.1" cy="757.5" r="2.5"/>
<circle cx="2129.0" cy="690.8" r="2.5"/>
</g>
<g class="sr">
<circle cx="2013.2" cy="997.5" r="2.5"/>
<circle cx="1903.6" cy="925.0" r="2.5"/>
</g>
<g class="sb">
<circle cx="1785.8" cy="1042.9" r="2.5"/>
</g>
<g class="sr">
<circle cx="2006.8" cy="689.9" r="2.5"/>
<circle cx="2128.2" cy="967.9" r="2.5"/>
<circle cx="1893.4" cy="758.0" r="2.5"/>
<circle cx="2123.4" cy="1008.1" r="2.5"/>
<circle cx="1783.6" cy="692.3" r="2.5"/>
<circle cx="1889.5" cy="1015.6" r="2.5"/>
<circle cx="1778.4" cy="1043.8" r="2.5"/>
</g>
<g class="sb">
<circle cx="2122.7" cy="1032.0" r="2.5"/>
</g>
<g class="sr">
<circle cx="2124.4" cy="689.9" r="2.5"/>
</g>
<g class="sb">
<circle cx="2004.0" cy="999.4" r="2.5"/>
<circle cx="1784.4" cy="1019.3" r="2.5"/>
<circle cx="1783.5" cy="1044.7" r="2.5"/>
</g>
<g class="sr">
<circle cx="2125.9" cy="1005.0" r="2.5"/>
</g>
<g class="sb">
<circle cx="1780.7" cy="972.0" r="2.5"/>
</g>
<g class="sr">
<circle cx="2129.0" cy="1035.0" r="2.5"/>
</g>
<g class="sb">
<circle cx="1781.8" cy="706.6" r="2.5"/>
</g>
<g class="sr">
<circle cx="2132.7" cy="698.8" r="2.5"/>
<circle cx="2128.4" cy="967.6" r="2.5"/>
</g>
<g class="sb">
<circle cx="2012.3" cy="1033.1" r="2.5"/>
<circle cx="1781.2" cy="977.1" r="2.5"/>
</g>
<g class="sr">
<circle cx="1891.9" cy="1025.7" r="2.5"/>
</g>
<g class="sb">
<circle cx="1775.2" cy="1023.3" r="2.5"/>
<circle cx="1900.0" cy="981.1" r="2.5"/>
<circle cx="1784.4" cy="996.6" r="2.5"/>
<circle cx="2004.0" cy="880.7" r="2.5"/>
</g>
<g class="sr">
<circle cx="2121.6" cy="713.0" r="2.5"/>
</g>
<g class="sb">
<circle cx="2011.4" cy="766.4" r="2.5"/>
<circle cx="2129.9" cy="1043.3" r="2.5"/>
<circle cx="1889.2" cy="714.5" r="2.5"/>
<circle cx="2130.9" cy="833.0" r="2.5"/>
</g>
<g class="sr">
<circle cx="1786.4" cy="728.2" r="2.5"/>
<circle cx="1892.3" cy="995.6" r="2.5"/>
</g>
<g class="sb">
<circle cx="2011.4" cy="788.6" r="2.5"/>
<circle cx="1772.9" cy="1029.0" r="2.5"/>
<circle cx="1779.8" cy="1024.8" r="2.5"/>
<circle cx="2011.4" cy="1042.4" r="2.5"/>
<circle cx="2126.8" cy="1020.0" r="2.5"/>
</g>
<g class="sr">
<circle cx="2007.7" cy="1036.9" r="2.5"/>
<circle cx="1892.6" cy="1020.6" r="2.5"/>
<circle cx="2122.1" cy="698.8" r="2.5"/>
</g>
<g class="sb">
<circle cx="2011.4" cy="723.8" r="2.5"/>
<circle cx="1899.7" cy="721.0" r="2.5"/>
<circle cx="1901.2" cy="857.5" r="2.5"/>
<circle cx="2012.9" cy="743.0" r="2.5"/>
</g>
<g class="sr">
<circle cx="2005.5" cy="706.6" r="2.5"/>
</g>
<g class="sb">
<circle cx="1896.6" cy="915.9" r="2.5"/>
<circle cx="2017.3" cy="826.6" r="2.5"/>
<circle cx="2014.6" cy="1042.4" r="2.5"/>
<circle cx="2004.4" cy="793.0" r="2.5"/>
<circle cx="2008.6" cy="735.3" r="2.5"/>
<circle cx="2123.4" cy="999.1" r="2.5"/>
<circle cx="2010.0" cy="1004.4" r="2.5"/>
</g>
<g class="sr">
<circle cx="1892.9" cy="701.0" r="2.5"/>
</g>
<g class="sb">
<circle cx="2007.7" cy="712.1" r="2.5"/>
<circle cx="1782.8" cy="1016.3" r="2.5"/>
</g>
<g class="sr">
<circle cx="2128.1" cy="736.2" r="2.5"/>
</g>
<g class="sb">
<circle cx="2122.5" cy="743.0" r="2.5"/>
<circle cx="1777.1" cy="732.5" r="2.5"/>
</g>
<g class="sr">
<circle cx="1775.2" cy="1026.2" r="2.5"/>
<circle cx="1893.7" cy="1028.5" r="2.5"/>
<circle cx="1781.8" cy="697.3" r="2.5"/>
<circle cx="2128.4" cy="724.1" r="2.5"/>
</g>
<g class="sb">
<circle cx="1779.5" cy="993.6" r="2.5"/>
</g>
<g class="sr">
<circle cx="1772.1" cy="704.3" r="2.5"/>
<circle cx="1904.0" cy="1019.3" r="2.5"/>
</g>
<g class="sb">
<circle cx="1785.5" cy="701.6" r="2.5"/>
</g>
<g class="sr">
<circle cx="1784.0" cy="787.1" r="2.5"/>
</g>
<g class="sb">
<circle cx="1893.7" cy="974.8" r="2.5"/>
<circle cx="1781.8" cy="709.3" r="2.5"/>
<circle cx="1890.0" cy="1031.8" r="2.5"/>
</g>
<g class="sr">
<circle cx="1774.0" cy="684.3" r="2.5"/>
</g>
<g class="sb">
<circle cx="1780.7" cy="995.6" r="2.5"/>
</g>
<g class="sr">
<circle cx="2013.7" cy="1016.0" r="2.5"/>
</g>
<g class="sb">
<circle cx="1782.7" cy="744.1" r="2.5"/>
<circle cx="1886.1" cy="1024.8" r="2.5"/>
</g>
<g class="sr">
<circle cx="2120.3" cy="762.1" r="2.5"/>
</g>
<g class="sb">
<circle cx="2132.1" cy="734.3" r="2.5"/>
<circle cx="2129.5" cy="1009.2" r="2.5"/>
<circle cx="1775.0" cy="1017.1" r="2.5"/>
<circle cx="1891.9" cy="998.0" r="2.5"/>
<circle cx="2008.6" cy="1031.3" r="2.5"/>
</g>
<g class="sr">
<circle cx="1787.3" cy="690.4" r="2.5"/>
</g>
<g class="sb">
<circle cx="1892.5" cy="823.2" r="2.5"/>
<circle cx="2124.4" cy="777.3" r="2.5"/>
<circle cx="2127.1" cy="1047.5" r="2.5"/>
</g>
<g class="sr">
<circle cx="1777.0" cy="1009.8" r="2.5"/>
</g>
<g class="sb">
<circle cx="1789.1" cy="1021.9" r="2.5"/>
<circle cx="1896.6" cy="803.8" r="2.5"/>
<circle cx="1781.2" cy="1022.9" r="2.5"/>
<circle cx="1893.6" cy="1044.8" r="2.5"/>
<circle cx="1786.3" cy="1021.6" r="2.5"/>
</g>
<g class="sr">
<circle cx="1784.0" cy="768.0" r="2.5"/>
</g>
<g class="sb">
<circle cx="2013.1" cy="1019.6" r="2.5"/>
<circle cx="2123.4" cy="1015.6" r="2.5"/>
<circle cx="2129.0" cy="739.0" r="2.5"/>
<circle cx="1894.7" cy="812.1" r="2.5"/>
<circle cx="1894.4" cy="1018.7" r="2.5"/>
<circle cx="1900.3" cy="763.0" r="2.5"/>
<circle cx="1775.3" cy="750.1" r="2.5"/>
<circle cx="2004.8" cy="1015.8" r="2.5"/>
<circle cx="2129.9" cy="1010.0" r="2.5"/>
<circle cx="2123.4" cy="998.9" r="2.5"/>
<circle cx="1779.9" cy="700.1" r="2.5"/>
<circle cx="2120.3" cy="724.5" r="2.5"/>
</g>
<g class="sr">
<circle cx="1893.3" cy="956.1" r="2.5"/>
</g>
<g class="sb">
<circle cx="2012.8" cy="1045.6" r="2.5"/>
</g>
<g class="sr">
<circle cx="2011.8" cy="730.3" r="2.5"/>
</g>
<g class="sb">
<circle cx="1783.6" cy="1050.5" r="2.5"/>
<circle cx="2009.5" cy="1023.0" r="2.5"/>
</g>
<g class="sr">
<circle cx="1779.9" cy="694.5" r="2.5"/>
</g>
<g class="sb">
<circle cx="1784.6" cy="740.4" r="2.5"/>
<circle cx="1784.8" cy="1033.8" r="2.5"/>
</g>
<g class="sr">
<circle cx="1895.6" cy="1031.3" r="2.5"/>
<circle cx="2011.0" cy="831.2" r="2.5"/>
</g>
<g class="sb">
<circle cx="2132.7" cy="974.8" r="2.5"/>
</g>
<g class="sr">
<circle cx="1783.6" cy="720.4" r="2.5"/>
<circle cx="1781.8" cy="733.4" r="2.5"/>
</g>
<g class="sb">
<circle cx="2130.9" cy="729.7" r="2.5"/>
<circle cx="1894.4" cy="801.6" r="2.5"/>
<circle cx="2125.9" cy="837.1" r="2.5"/>
<circle cx="2125.5" cy="1022.6" r="2.5"/>
<circle cx="1781.8" cy="809.3" r="2.5"/>
</g>
<g class="sr">
<circle cx="2128.1" cy="709.0" r="2.5"/>
</g>
<g class="sb">
<circle cx="2121.6" cy="985.1" r="2.5"/>
<circle cx="2130.8" cy="1019.3" r="2.5"/>
<circle cx="2123.1" cy="856.2" r="2.5"/>
</g>
<g class="sr">
<circle cx="2123.6" cy="1004.3" r="2.5"/>
</g>
<g class="sb">
<circle cx="2014.1" cy="978.1" r="2.5"/>
</g>
<g class="sr">
<circle cx="1778.1" cy="719.5" r="2.5"/>
<circle cx="2127.1" cy="703.8" r="2.5"/>
<circle cx="2133.1" cy="1041.9" r="2.5"/>
<circle cx="1891.9" cy="1036.9" r="2.5"/>
</g>
<g class="sb">
<circle cx="2120.4" cy="974.1" r="2.5"/>
<circle cx="2009.9" cy="1022.5" r="2.5"/>
<circle cx="2007.7" cy="1020.2" r="2.5"/>
</g>
<g class="sr">
<circle cx="1773.1" cy="689.9" r="2.5"/>
</g>
<g class="sb">
<circle cx="2010.9" cy="834.3" r="2.5"/>
</g>
<g class="sr">
<circle cx="2004.0" cy="711.2" r="2.5"/>
<circle cx="1903.0" cy="1016.0" r="2.5"/>
<circle cx="1779.9" cy="722.3" r="2.5"/>
<circle cx="1894.6" cy="1011.9" r="2.5"/>
</g>
<g class="sb">
<circle cx="1781.9" cy="1035.0" r="2.5"/>
<circle cx="1898.3" cy="1020.6" r="2.5"/>
</g>
<g class="sr">
<circle cx="1775.3" cy="879.3" r="2.5"/>
</g>
<g class="sb">
<circle cx="1896.5" cy="1019.3" r="2.5"/>
<circle cx="2005.3" cy="1011.9" r="2.5"/>
<circle cx="1783.1" cy="1016.5" r="2.5"/>
<circle cx="2007.7" cy="1001.7" r="2.5"/>
<circle cx="2127.1" cy="764.9" r="2.5"/>
</g>
<g class="sr">
<circle cx="2121.6" cy="989.6" r="2.5"/>
</g>
<g class="sb">
<circle cx="1900.9" cy="871.5" r="2.5"/>
</g>
<g class="sr">
<circle cx="1901.6" cy="1024.4" r="2.5"/>
</g>
<g class="sb">
<circle cx="1901.6" cy="822.9" r="2.5"/>
<circle cx="1782.9" cy="1007.6" r="2.5"/>
<circle cx="1779.8" cy="1014.6" r="2.5"/>
<circle cx="2015.2" cy="1016.3" r="2.5"/>
<circle cx="1898.4" cy="705.3" r="2.5"/>
</g>
<g class="sr">
<circle cx="2006.0" cy="1026.0" r="2.5"/>
</g>
<g class="sb">
<circle cx="1782.1" cy="1011.9" r="2.5"/>
<circle cx="2118.4" cy="790.8" r="2.5"/>
<circle cx="2014.6" cy="754.7" r="2.5"/>
</g>
<circle cx="146.6" cy="816.5" r="9.9" fill="#979797" fill-opacity="0.7" stroke="#979797" stroke-opacity="0.55" stroke-width="1.6"/>
<circle cx="261.9" cy="861.5" r="9.9" fill="#979797" fill-opacity="0.7" stroke="#979797" stroke-opacity="0.55" stroke-width="1.6"/>
<circle cx="377.1" cy="811.5" r="9.9" fill="#979797" fill-opacity="0.7" stroke="#979797" stroke-opacity="0.55" stroke-width="1.6"/>
<circle cx="492.4" cy="848.5" r="9.9" fill="#979797" fill-opacity="0.7" stroke="#979797" stroke-opacity="0.55" stroke-width="1.6"/>
<polyline points="689.0,790.4 689.0,771.5 709.6,771.5" fill="none" stroke="#000" stroke-width="2.8"/>
<polyline points="779.0,771.5 805.4,771.5 805.4,876.7" fill="none" stroke="#000" stroke-width="2.8"/>
<text transform="translate(744.6 766.8) scale(1 1.04)" font-size="24.6" text-anchor="middle" font-weight="normal" fill="#000">***</text>
<text transform="translate(744.8 784.3) scale(1 1.04)" font-size="26.0" text-anchor="middle" font-weight="normal" fill="#000">(prer.)</text>
<circle cx="691.6" cy="805.4" r="9.9" fill="#e01f2d" fill-opacity="0.7" stroke="#e01f2d" stroke-opacity="0.55" stroke-width="1.6"/>
<circle cx="806.9" cy="896.3" r="9.9" fill="#e01f2d" fill-opacity="0.7" stroke="#e01f2d" stroke-opacity="0.55" stroke-width="1.6"/>
<circle cx="922.1" cy="838.4" r="9.9" fill="#e01f2d" fill-opacity="0.7" stroke="#e01f2d" stroke-opacity="0.55" stroke-width="1.6"/>
<circle cx="1037.3" cy="872.5" r="9.9" fill="#e01f2d" fill-opacity="0.7" stroke="#e01f2d" stroke-opacity="0.55" stroke-width="1.6"/>
<polyline points="1234.0,840.4 1234.0,872.3 1258.6,872.3" fill="none" stroke="#000" stroke-width="2.8"/>
<polyline points="1329.0,872.3 1351.5,872.3 1351.5,835.2" fill="none" stroke="#000" stroke-width="2.8"/>
<text transform="translate(1293.3 866.0) scale(1 1.04)" font-size="25.6" text-anchor="middle" font-weight="normal" fill="#000">n.s.</text>
<text transform="translate(1293.8 896.9) scale(1 1.04)" font-size="26.0" text-anchor="middle" font-weight="normal" fill="#000">(prer.)</text>
<circle cx="1235.8" cy="824.1" r="9.9" fill="#4585c0" fill-opacity="0.7" stroke="#4585c0" stroke-opacity="0.55" stroke-width="1.6"/>
<circle cx="1351.0" cy="819.4" r="9.9" fill="#4585c0" fill-opacity="0.7" stroke="#4585c0" stroke-opacity="0.55" stroke-width="1.6"/>
<circle cx="1466.3" cy="820.4" r="9.9" fill="#4585c0" fill-opacity="0.7" stroke="#4585c0" stroke-opacity="0.55" stroke-width="1.6"/>
<circle cx="1581.5" cy="772.3" r="9.9" fill="#4585c0" fill-opacity="0.7" stroke="#4585c0" stroke-opacity="0.55" stroke-width="1.6"/>
<polyline points="1778.8,837.9 1778.8,891.2 1800.0,891.2" fill="none" stroke="#000" stroke-width="2.8"/>
<polyline points="1869.8,891.2 1894.5,891.2 1894.5,924.4" fill="none" stroke="#000" stroke-width="2.8"/>
<text transform="translate(1834.7 886.5) scale(1 1.04)" font-size="24.6" text-anchor="middle" font-weight="normal" fill="#000">***</text>
<text transform="translate(1835.1 903.6) scale(1 1.04)" font-size="26.0" text-anchor="middle" font-weight="normal" fill="#000">(prer.)</text>
<circle cx="1780.8" cy="941.9" r="9.9" fill="#4585c0" fill-opacity="0.7" stroke="#4585c0" stroke-opacity="0.55" stroke-width="1.6"/>
<circle cx="1780.8" cy="820.9" r="9.9" fill="#e01f2d" fill-opacity="0.7" stroke="#e01f2d" stroke-opacity="0.55" stroke-width="1.6"/>
<circle cx="1896.1" cy="861.7" r="9.9" fill="#4585c0" fill-opacity="0.7" stroke="#4585c0" stroke-opacity="0.55" stroke-width="1.6"/>
<circle cx="1896.1" cy="938.4" r="9.9" fill="#e01f2d" fill-opacity="0.7" stroke="#e01f2d" stroke-opacity="0.55" stroke-width="1.6"/>
<circle cx="2011.3" cy="900.8" r="9.9" fill="#4585c0" fill-opacity="0.7" stroke="#4585c0" stroke-opacity="0.55" stroke-width="1.6"/>
<circle cx="2011.3" cy="852.9" r="9.9" fill="#e01f2d" fill-opacity="0.7" stroke="#e01f2d" stroke-opacity="0.55" stroke-width="1.6"/>
<circle cx="2126.6" cy="866.0" r="9.9" fill="#4585c0" fill-opacity="0.7" stroke="#4585c0" stroke-opacity="0.55" stroke-width="1.6"/>
<circle cx="2126.6" cy="895.1" r="9.9" fill="#e01f2d" fill-opacity="0.7" stroke="#e01f2d" stroke-opacity="0.55" stroke-width="1.6"/>
</svg></body></html>
